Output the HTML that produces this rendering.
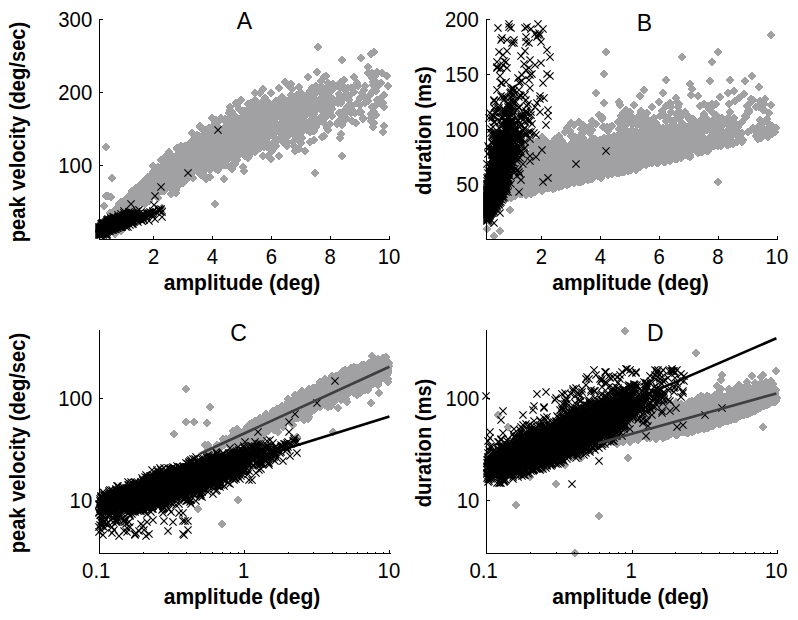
<!DOCTYPE html>
<html><head><meta charset="utf-8"><title>Figure</title>
<style>
html,body{margin:0;padding:0;background:#fff;}
body{width:798px;height:620px;overflow:hidden;}
svg{display:block;font-family:"Liberation Sans",sans-serif;}
</style></head><body>
<svg width="798" height="620" viewBox="0 0 798 620">
<defs>
<marker id="d" markerUnits="userSpaceOnUse" markerWidth="10" markerHeight="10" refX="5" refY="5" overflow="visible"><path d="M5 0.7L9.3 5L5 9.3L0.7 5Z" fill="#a1a1a4" shape-rendering="crispEdges"/></marker>
<marker id="x" markerUnits="userSpaceOnUse" markerWidth="10" markerHeight="10" refX="5" refY="5" overflow="visible"><path d="M1.4 1.4L8.6 8.6M8.6 1.4L1.4 8.6" stroke="#000" stroke-width="1.15" fill="none"/></marker>
</defs>
<rect width="798" height="620" fill="#fff"/>
<g>
<polyline points="225,130 301,133 259,129 158,167 170,162 291,130 114,216 272,151 265,114 196,152 170,170 166,180 163,180 192,162 202,150 211,130 381,102 263,156 224,179 372,92 157,178 149,186 222,151 127,198 125,207 204,144 196,158 311,130 226,126 204,175 201,161 162,175 118,212 154,179 239,146 155,185 180,180 112,216 275,123 148,194 165,180 294,106 203,146 281,118 228,147 250,122 137,204 209,152 203,154 290,129 179,164 219,151 131,204 183,149 173,164 147,182 271,116 182,156 358,86 218,170 221,118 227,142 235,132 147,188 192,133 161,187 186,161 138,193 347,112 157,174 234,122 170,175 291,95 232,118 144,184 280,133 328,83 304,114 214,149 154,174 317,92 211,149 152,178 295,119 228,148 214,147 181,157 187,164 161,160 126,205 292,124 196,145 210,140 173,169 252,131 122,205 181,158 124,203 143,193 346,94 231,128 190,153 206,179 176,190 218,146 237,132 178,168 205,144 256,128 307,110 147,179 320,118 114,213 253,110 269,118 145,200 188,157 270,127 119,210 225,129 263,118 204,153 246,141 159,177 155,182 179,163 152,183 177,170 330,113 215,144 176,193 165,183 333,84 192,159 360,98 204,152 205,149 301,143 250,128 216,153 189,152 293,126 187,152 314,140 133,204 190,151 205,151 332,116 162,174 267,138 235,134 244,171 226,145 351,113 175,164 185,157 155,187 129,197 157,193 310,142 279,125 141,187 221,143 198,149 232,150 171,194 341,103 196,168 225,142 227,165 152,180 131,202 187,162 255,100 270,125 247,117 141,193 309,123 266,117 293,124 206,139 310,96 128,202 124,204 121,202 163,178 162,191 153,185 214,140 126,208 218,142 150,184 235,145 121,209 171,175 323,95 208,156 269,116 231,157 222,138 154,193 215,143 126,201 266,127 340,85 283,109 129,205 176,169 172,174 141,194 225,152 265,117 172,167 287,121 265,122 144,189 256,148 295,126 154,187 215,147 227,158 222,144 138,200 232,129 226,150 273,144 267,122 174,177 245,111 288,123 299,119 149,183 123,208 230,138 157,172 213,143 328,92 182,155 163,183 194,142 231,130 139,191 182,171 145,186 232,132 275,128 181,146 181,160 209,150 157,179 162,172 174,161 194,151 135,193 253,111 216,158 134,202 255,125 145,187 144,196 135,199 305,96 165,178 171,171 276,115 224,161 153,179 191,155 295,136 181,172 243,142 138,198 246,127 259,124 274,118 235,116 181,155 132,203 205,160 254,107 165,184 208,133 252,136 301,116 143,191 153,189 265,137 229,143 245,121 383,103 324,123 280,125 259,144 184,151 228,140 153,188 254,121 254,146 245,124 192,147 188,158 124,209 280,111 209,147 183,161 210,134 245,126 182,153 275,112 312,129 183,154 255,147 377,72 243,128 273,134 313,107 143,190 137,197 370,95 142,203 151,178 215,157 193,160 252,141 309,102 157,186 257,123 197,135 172,157 172,178 194,165 130,199 381,83 297,138 310,128 162,185 184,175 159,180 143,197 124,210 143,189 151,192 286,132 199,153 152,185 234,145 165,170 206,142 167,169 225,119 208,132 184,165 263,126 291,99 145,188 141,189 359,112 325,109 159,189 349,111 156,193 203,130 201,139 310,92 126,203 172,163 220,130 132,191 160,191 196,164 294,108 255,135 275,138 255,143 242,128 282,104 236,152 248,109 150,188 254,138 150,195 312,114 219,147 322,101 148,199 204,149 137,192 345,96 215,137 267,117 266,121 241,144 228,141 332,105 191,148 188,147 239,129 277,131 175,174 234,138 156,174 211,144 257,127 247,121 119,208 338,103 196,154 187,147 245,133 206,134 247,116 136,197 213,138 212,147 319,122 226,134 211,147 134,195 219,135 158,198 154,181 293,142 194,161 252,127 242,117 211,165 268,120 196,156 224,120 271,113 236,134 228,145 186,167 212,118 185,165 251,152 196,159 253,133 202,152 175,176 274,113 182,167 280,139 261,136 243,122 125,215 286,121 216,142 212,127 233,144 235,130 217,137 188,168 169,171 169,176 190,154 387,76 178,158 193,159 181,163 216,169 330,124 297,110 182,157 165,174 295,105 201,151 237,126 134,194 288,119 172,169 201,153 155,194 188,159 274,137 274,111 197,140 257,106 195,145 181,178 210,133 155,189 172,170 242,112 257,141 130,198 248,145 271,123 192,165 131,199 237,141 162,171 228,126 181,175 227,128 198,166 206,161 226,138 155,183 342,60 168,177 171,167 163,184 189,147 258,133 242,153 154,191 173,179 257,130 200,157 314,100 231,166 224,165 256,143 252,117 176,168 163,188 191,154 200,147 146,183 192,160 228,134 145,184 145,199 151,188 167,173 341,82 122,210 197,157 119,207 195,152 149,182 165,186 263,117 152,188 223,142 186,168 188,150 271,111 149,191 314,128 299,112 233,159 128,197 232,154 220,163 258,130 157,180 334,101 296,103 141,184 172,173 124,207 275,145 310,106 373,82 233,124 214,131 333,99 221,154 175,173 204,166 120,214 246,128 239,124 189,144 283,105 253,131 175,177 170,167 193,152 317,102 166,169 302,110 236,120 283,124 186,148 111,213 262,102 161,185 146,193 265,112 237,134 157,185 165,167 324,77 165,168 241,128 144,190 270,128 142,194 204,145 211,136 281,126 136,188 166,166 256,129 221,147 225,165 194,152 287,137 169,165 254,148 227,160 250,126 182,160 246,116 240,149 183,156 123,211 342,156 155,184 166,186 196,150 286,107 193,172 168,181 170,174 134,201 158,178 165,188 151,182 131,197 196,157 157,189 249,129 314,118 166,171 215,146 203,145 134,200 143,185 296,148 197,164 267,147 132,206 219,136 288,114 205,157 180,163 254,129 164,162 269,121 194,149 348,88 173,161 184,170 148,183 214,145 334,100 216,134 229,145 173,157 214,164 218,140 266,116 211,132 155,193 217,143 200,145 150,194 224,141 271,108 210,143 248,133 186,162 165,172 181,182 209,148 237,105 212,148 140,199 271,118 314,114 139,196 162,177 151,181 282,114 307,130 127,204 175,165 154,186 313,97 133,203 151,184 199,136 206,135 251,118 191,151 178,178 362,93 252,125 142,190 268,122 171,168 260,133 118,209 290,104 149,187 232,158 203,159 150,179 146,181 167,171 129,203 144,181 196,149 217,138 167,170 125,204 253,121 163,191 186,150 253,126 186,171 297,95 311,92 248,104 146,198 220,167 321,92 147,189 243,132 197,165 352,121 144,193 305,124 139,188 137,202 174,174 323,112 124,205 311,98 222,133 132,201 214,150 195,155 249,122 236,142 384,107 148,177 269,110 187,158 261,121 299,121 376,115 165,177 194,158 326,117 328,130 181,167 324,97 186,165 254,139 197,156 193,158 183,173 190,174 146,187 253,122 213,150 234,146 266,128 160,179 166,176 255,134 227,145 153,180 140,190 240,128 254,119 169,166 227,135 125,205 186,160 216,120 163,176 177,168 222,146 218,143 148,186 242,147 135,206 349,96 155,192 163,175 155,181 375,76 168,178 221,138 374,107 332,86 127,206 220,165 241,132 175,168 174,158 113,216 211,155 175,167 133,193 316,102 191,167 242,142 116,210 161,176 340,120 301,98 227,139 137,195 158,183 139,198 148,196 304,123 175,172 136,192 264,147 235,150 210,170 223,148 139,197 164,191 217,141 333,101 271,120 205,158 119,204 298,115 144,183 239,127 262,110 194,155 283,133 357,83 161,169 288,132 171,164 203,155 116,212 192,152 243,151 202,162 289,103 301,100 172,159 167,179 324,99 202,137 138,197 374,52 216,137 130,195 204,143 202,160 191,149 333,100 331,98 148,181 186,156 276,130 224,135 247,122 215,153 156,184 271,127 119,212 240,129 154,177 197,138 354,87 209,153 130,202 190,148 232,141 163,174 120,209 182,168 202,154 169,181 231,132 151,185 306,109 340,97 200,146 196,161 286,125 168,184 168,187 245,114 175,182 316,86 268,102 209,131 177,149 133,197 163,181 234,150 342,125 361,58 298,122 152,192 349,100 289,122 293,133 224,157 155,180 205,131 168,169 143,183 266,124 314,131 146,189 118,216 164,177 145,183 153,182 217,133 189,171 190,171 233,141 168,165 185,146 195,162 304,117 162,178 244,136 171,180 300,110 184,159 203,148 292,133 234,136 138,204 145,185 374,116 123,207 339,113 119,213 149,196 157,171 136,200 197,152 218,122 140,191 267,108 213,141 209,139 190,175 287,146 184,163 204,155 213,154 256,118 247,141 163,177 376,105 245,152 189,170 188,176 260,93 151,187 228,138 244,130 205,148 291,84 196,151 196,167 167,165 312,120 172,171 239,141 187,168 321,81 330,103 380,99 221,144 134,193 201,152 128,198 210,177 180,157 170,158 220,141 273,145 322,97 174,173 114,215 181,156 340,83 142,189 289,131 230,110 259,126 168,183 300,93 135,195 142,188 193,157 147,187 210,138 250,134 285,116 218,127 364,90 195,166 257,135 138,202 291,124 216,148 297,116 262,121 289,105 244,128 218,156 319,88 118,214 154,178 179,165 271,107 210,146 204,160 255,114 231,135 168,171 136,196 195,147 294,102 219,140 129,207 192,161 183,162 216,126 217,139 333,104 175,159 222,141 296,110 242,140 197,146 270,116 199,155 343,121 167,172 144,185 275,129 169,179 281,112 222,159 203,172 136,203 262,134 344,111 292,109 170,172 144,194 296,120 198,148 143,186 201,144 162,173 186,180 228,150 310,114 266,120 149,195 198,141 200,126 372,107 204,154 309,122 164,178 212,161 173,186 316,109 136,202 243,111 302,126 299,110 322,88 106,223 342,100 255,146 131,198 241,100 311,110 347,107 244,135 287,101 279,110 179,173 139,189 246,147 382,73 212,142 205,140 330,104 167,167 388,86 308,77 179,170 174,160 143,192 153,187 298,135 219,157 234,127 248,137 127,199 202,149 129,202 202,147 249,132 231,150 223,141 128,199 160,171 301,93 208,150 128,208 324,95 187,163 210,139 244,140 323,104 249,156 177,164 134,205 242,138 352,106 120,207 258,137 195,164 206,149 223,139 372,78 238,125 184,160 196,153 187,159 180,166 201,175 167,181 161,175 147,183 192,167 169,152 277,107 281,124 176,181 224,144 303,130 179,160 192,142 230,135 340,138 145,192 345,120 233,131 264,104 227,141 290,102 174,176 164,160 203,164 236,121 155,175 131,208 263,128 268,136 173,172 231,138 136,194 232,134 215,142 223,144 193,147 158,184 246,139 251,139 180,160 136,195 209,167 224,137 313,130 164,173 240,154 182,148 200,127 207,160 239,144 227,137 236,146 183,155 235,146 177,165 195,156 213,142 120,206 201,145 183,177 231,133 299,149 178,169 140,192 224,146 144,197 299,87 179,167 201,140 142,186 173,178 166,156 243,143 368,101 179,174 263,122 146,196 216,144 190,149 272,124 251,110 145,195 272,125 376,91 222,140 290,112 365,97 250,139 158,177 180,165 224,153 316,119 170,176 184,162 121,207 240,132 192,163 160,187 232,169 234,135 196,170 251,121 153,191 195,160 160,186 266,145 271,159 328,99 278,109 229,118 273,117 247,132 251,127 240,138 275,133 169,158 234,158 174,167 148,193 200,154 180,168 189,169 283,118 236,140 365,86 157,187 203,147 137,199 332,103 254,141 288,128 203,160 265,121 192,151 203,156 154,182 171,183 170,187 371,114 324,136 345,117 283,142 229,113 190,157 154,184 177,155 186,174 374,112 245,141 147,197 126,209 327,91 153,172 230,136 195,149 260,135 200,164 208,155 194,171 373,127 265,98 201,143 160,180 154,176 162,187 339,94 283,104 240,144 184,180 192,164 169,169 189,164 257,133 134,214 166,175 198,144 235,164 229,133 246,126 140,200 171,165 167,182 253,137 378,86 237,127 315,93 219,158 177,184 178,162 226,139 287,131 176,158 153,166 110,213 145,193 282,97 225,141 374,123 133,199 180,171 264,118 232,126 132,204 185,158 227,125 238,138 194,166 153,190 345,90 244,143 208,163 160,168 131,210 173,171 179,155 271,93 121,208 268,110 191,166 165,165 285,122 273,123 173,174 297,97 169,175 231,154 265,145 287,127 200,143 279,88 195,153 164,183 175,185 256,137 276,101 146,186 337,124 325,117 346,95 247,139 235,159 181,170 110,219 276,140 166,173 135,202 172,166 246,119 159,184 284,135 225,133 158,188 292,132 255,124 204,147 182,177 174,171 186,149 193,178 168,175 183,160 175,161 223,150 201,149 264,135 204,165 252,148 282,124 269,132 234,156 245,145 240,141 163,170 142,198 185,162 121,210 231,122 251,103 259,132 144,187 278,127 125,200 195,146 176,176 207,148 237,128 248,144 133,195 329,111 215,141 165,166 205,154 205,163 162,170 164,174 179,169 260,148 191,160 194,160 356,123 169,172 208,143 303,108 322,109 150,191 232,145 260,120 254,115 235,121 120,211 159,173 241,133 183,171 193,150 279,156 122,211 165,171 168,174 377,100 128,200 188,169 230,142 148,187 278,140 241,134 149,201 294,110 155,172 247,130 278,125 163,166 137,198 217,150 202,166 198,145 260,122 194,164 149,185 162,182 261,132 141,198 206,162 172,165 161,170 181,165 202,146 235,161 351,108 194,156 188,167 161,173 133,202 156,185 166,160 322,119 187,157 219,149 137,193 298,107 184,177 296,122 328,87 304,115 160,182 124,212 194,153 340,113 116,213 155,186 134,208 302,114 238,142 180,172 279,100 265,131 174,170 281,104 318,106 224,158 178,172 303,99 326,110 177,158 289,109 233,134 159,179 214,155 171,173 176,167 154,195 176,178 372,73 195,142 351,88 115,214 317,124 277,112 218,134 239,109 171,174 183,174 161,178 168,180 151,186 304,120 297,114 179,159 200,150 177,166 344,80 176,163 328,98 169,182 268,113 141,186 248,128 268,143 278,102 354,77 243,167 357,103 166,170 205,146 191,174 245,156 259,141 120,208 326,96 162,184 276,114 300,142 249,154 175,170 277,127 178,184 260,144 301,114 252,121 174,163 207,138 208,136 141,197 375,81 346,97 327,107 207,155 143,194 272,120 190,150 243,136 274,119 273,143 239,125 307,104 261,139 291,116 178,177 187,171 175,162 159,169 174,179 189,157 214,157 253,134 197,150 219,128 189,165 212,138 301,111 165,175 205,130 237,160 341,134 201,155 161,179 255,93 270,117 226,121 310,91 207,162 250,113 311,107 228,136 220,137 183,175 214,154 305,151 274,106 249,134 314,110 132,200 257,118 252,126 196,165 125,210 200,160 273,131 161,183 211,146 230,107 294,146 293,114 227,144 183,183 259,110 301,130 198,154 310,132 150,181 256,117 170,166 217,151 201,148 147,191 253,127 250,127 147,186 164,180 266,125 308,107 290,114 180,152 201,150 159,172 149,199 239,136 230,114 354,92 296,133 301,94 192,170 265,126 167,175 206,130 360,105 203,158 262,136 172,164 275,132 160,174 328,102 122,206 215,152 241,142 258,107 182,175 158,180 283,113 159,186 326,76 213,161 205,139 239,131 175,178 137,196 261,119 265,134 127,205 303,104 182,150 316,127 219,143 210,152 271,133 225,136 235,133 148,195 134,197 198,159 256,122 118,213 384,95 203,162 156,176 156,178 186,169 263,89 126,204 278,111 373,85 179,177 160,173 152,184 173,166 111,216 261,142 233,125 248,158 234,153 172,168 156,183 189,158 229,150 256,135 232,112 248,118 142,192 165,182 193,144 141,192 140,193 230,150 250,142 181,171 184,173 205,153 216,141 320,104 126,199 307,114 177,167 246,115 273,129 230,147 224,136 292,89 140,198 280,105 259,115 251,134 238,139 143,187 238,135 202,156 355,113 227,154 132,212 282,122 277,102 216,132 207,163 197,155 232,135 157,177 122,207 152,187 285,82 244,114 252,122 287,142 203,150 225,137 199,173 163,169 239,142 215,161 253,143 198,157 317,72 249,146 176,188 279,116 183,151 371,121 300,104 209,145 143,199 371,118 266,106 146,185 215,150 255,141 147,184 340,88 177,148 199,165 138,199 136,199 258,134 306,112 180,169 323,97 324,104 312,88 286,115 279,112 208,157 203,142 180,154 288,101 303,120 215,148 167,164 161,182 138,191 173,163 258,144 199,159 220,153 128,209 169,184 305,105 379,103 150,192 256,132 198,170 314,103 292,113 184,171 131,200 303,103 368,67 159,176 209,128 239,134 199,141 178,186 162,169 163,172 334,88 116,209 246,118 262,107 219,148 233,132 242,139 248,129 288,85 215,123 236,149 166,178 327,128 229,127 300,105 363,118 140,196 207,142 141,195 153,174 132,198 282,133 135,197 284,104 241,146 375,85 251,141 243,124 133,200 258,136 222,136 164,185 208,149 137,200 268,156 139,192 212,133 160,170 342,85 236,103 284,126 182,159 326,92 169,170 365,103 131,201 248,141 168,170 227,138 128,201 249,121 158,189 174,165 321,86 203,170 230,145 241,125 272,106 164,168 121,206 312,131 225,128 187,153 255,105 207,156 363,119 332,109 316,110 274,110 207,146 230,143 223,143 132,197 118,210 244,121 240,121 260,128 277,124 223,140 281,107 232,122 316,101 127,212 183,176 291,128 122,208 152,193 255,111 163,165 346,118 255,152 193,155 145,204 165,163 361,112 263,129 133,198 242,133 181,150 245,125 144,186 121,212 286,136 298,127 237,121 251,137 302,117 368,73 192,168 259,143 320,99 384,126 231,146 196,160 195,163 166,177 120,210 256,150 239,120 279,107 148,191 160,183 322,137 197,159 219,156 338,122 289,111 302,138 262,144 184,172 161,181 290,127 312,126 291,113 182,165 193,140 164,172 139,193 260,139 151,183 228,133 187,161 213,151 211,160 299,124 261,125 276,146 210,148 236,131 240,123 265,142 267,116 106,147 112,178 106,196 108,196 111,197 104,206 121,231 115,234 109,233 103,232 99,231 112,228 107,228 122,209 330,100 176,180 215,204 217,162 315,173 383,132 295,151 218,165 330,92 102,230 100,231 105,229 162,208 318,47 371,54" fill="none" stroke="none" marker-start="url(#d)" marker-mid="url(#d)" marker-end="url(#d)"/>
<polyline points="103,226 99,230 102,228 102,231 100,229 108,226 101,228 103,230 110,225 133,222 105,226 101,232 100,230 104,226 103,228 104,228 107,230 102,225 120,224 113,220 99,229 117,226 112,220 111,227 112,224 101,229 101,226 100,232 108,225 111,220 105,227 104,227 109,228 117,220 108,227 105,232 111,228 102,229 103,227 101,231 106,229 113,228 107,228 107,226 112,225 110,227 111,225 106,228 100,228 116,224 109,229 125,221 106,227 101,227 106,223 109,222 107,227 144,220 118,218 99,233 106,224 101,230 112,221 103,233 107,223 113,222 105,225 102,224 110,221 105,228 102,227 114,225 116,221 102,230 100,231 120,221 116,226 103,231 113,224 114,228 112,227 137,211 103,229 104,225 114,223 128,221 108,224 107,229 106,230 113,223 124,221 110,224 105,229 115,223 116,223 122,224 116,227 102,226 104,229 109,227 132,219 107,224 115,221 147,217 109,224 114,222 109,226 110,223 111,229 114,224 110,229 148,214 119,222 111,224 99,232 119,218 108,228 108,223 112,222 99,227 109,225 153,212 107,232 111,223 104,230 102,232 123,222 141,219 115,222 117,224 105,231 108,229 118,226 114,220 121,223 105,230 118,221 134,218 106,226 106,225 127,219 113,230 128,222 99,231 121,227 107,225 117,221 125,218 107,222 111,222 110,226 112,230 152,213 128,214 113,227 105,224 117,222 112,226 119,224 128,223 120,218 114,229 123,224 112,219 110,222 137,220 110,228 119,219 113,225 112,223 117,219 114,221 117,223 109,230 103,225 133,217 118,217 120,226 117,225 131,218 115,225 120,222 116,225 107,220 122,219 125,219 115,224 105,223 142,218 104,231 120,223 124,213 138,216 129,220 111,218 114,219 114,226 136,219 108,230 103,224 113,226 114,217 147,214 128,218 106,222 131,221 104,224 155,219 124,225 118,220 122,223 114,218 115,228 99,228 103,232 124,216 134,222 106,231 121,220 109,223 119,220 115,226 120,227 111,226 127,218 128,227 117,227 110,220 126,221 108,222 107,231 123,219 115,219 152,215 100,233 129,212 117,228 116,222 102,223 119,223 111,221 115,227 124,215 115,220 121,226 159,210 118,219 126,227 142,217 124,211 119,225 101,233 122,226 130,218 132,214 113,217 121,216 132,218 120,217 119,217 119,226 113,221 118,224 123,216 112,228 122,225 114,227 121,221 149,221 133,224 103,223 116,229 107,221 123,220 108,220 139,219 131,214 132,216 124,217 112,229 127,217 118,223 126,222 121,217 132,215 137,215 140,217 124,224 100,227 132,222 149,214 124,223 119,221 116,220 118,225 104,232 122,227 142,216 124,218 121,222 134,216 130,219 109,231 143,218 118,222 126,220 123,223 120,219 124,222 123,225 108,219 111,219 116,218 121,225 120,225 121,218 132,224 132,221 122,218 102,233 134,217 125,217 109,221 137,214 122,220 124,220 130,222 125,223 125,222 160,211 121,214 144,216 154,205 113,229 138,222 129,218 101,224 115,229 125,215 121,219 126,225 138,219 127,220 128,215 108,221 139,210 121,224 125,220 110,231 113,219 104,223 131,222 127,214 129,215 141,212 131,212 118,215 143,215 149,213 118,228 162,217 111,230 140,218 119,227 122,217 125,216 132,213 124,219 125,224 129,214 130,225 136,220 143,216 126,218 134,221 123,218 129,216 138,214 136,215 126,214 108,231 143,217 116,219 122,221 139,217 133,213 126,223 126,219 115,218 133,221 138,217 135,214 123,221 142,214 99,235 107,235 101,235 106,234 100,235 101,234 99,234 106,235 104,233 107,234 103,234 105,233 103,235 100,234 106,233 104,234 153,211 139,216 123,217 143,214 132,217 150,212 141,220 137,218 151,214 142,221 152,216 109,220 159,209 162,212 147,213 153,214 156,212 161,209 145,216 218,130 188,173 161,187 155,196 131,204 159,211" fill="none" stroke="none" marker-start="url(#x)" marker-mid="url(#x)" marker-end="url(#x)"/>
<polyline points="612,160 689,139 646,132 546,141 557,174 679,150 501,195 660,155 652,159 584,142 558,161 554,188 551,184 580,155 590,178 599,152 769,136 651,129 612,153 759,106 545,174 537,186 610,162 515,177 513,186 592,151 584,178 699,140 613,137 592,130 589,178 550,178 505,178 541,184 626,165 543,167 568,166 500,193 663,128 536,166 553,178 682,139 591,176 669,158 615,167 638,120 525,174 597,163 591,169 678,158 567,172 607,143 518,185 571,162 561,151 535,170 658,139 570,171 746,117 606,129 609,154 615,152 623,150 535,183 579,175 548,183 573,158 526,189 735,101 545,186 622,159 557,146 679,111 620,152 532,193 668,148 716,104 692,130 602,159 534,191 541,181 705,124 599,171 540,173 683,124 616,158 602,163 569,184 575,175 548,181 513,190 680,126 584,143 598,168 561,167 640,96 510,196 511,181 531,191 734,118 619,129 577,147 594,153 679,144 564,180 606,166 625,120 566,181 593,139 644,137 695,141 535,180 708,139 501,175 640,157 657,143 533,185 576,172 506,169 613,149 651,152 592,139 634,143 546,159 542,191 540,155 564,173 718,146 603,150 564,182 721,131 580,162 748,111 592,175 593,173 689,137 638,151 604,166 577,172 681,149 575,155 702,152 520,169 578,180 593,163 720,143 550,163 655,122 632,149 613,170 738,127 562,179 573,174 543,161 516,191 544,183 698,96 666,118 529,175 608,169 586,145 607,170 619,102 558,179 729,135 584,132 614,164 540,185 519,185 575,174 643,141 658,159 635,159 529,178 697,144 654,141 680,152 594,158 698,147 515,192 511,178 508,186 550,176 550,151 541,185 601,146 514,192 606,147 538,186 623,162 509,196 559,167 711,108 596,170 657,152 619,134 610,165 541,190 603,170 514,181 654,152 728,118 671,121 516,189 563,159 560,168 529,187 613,169 653,132 559,136 675,159 652,138 532,161 644,161 683,155 542,187 603,159 615,169 609,152 526,192 620,158 661,152 654,156 562,162 633,139 676,148 687,133 537,177 618,142 601,174 716,117 570,182 550,183 582,161 619,158 527,172 570,159 532,143 620,148 663,138 569,156 568,173 596,163 545,173 550,166 562,186 582,165 523,188 640,155 557,152 522,153 643,157 532,171 532,183 532,164 523,159 693,136 553,162 558,158 664,162 611,170 541,177 683,141 569,169 630,142 526,170 634,153 647,113 661,136 623,154 568,179 642,133 541,169 552,185 596,145 639,167 689,144 531,185 540,144 653,129 616,168 633,167 771,105 712,143 667,146 647,159 572,178 616,163 540,182 642,163 642,130 633,134 569,173 576,178 512,193 668,156 597,171 571,144 598,161 633,142 570,160 663,137 700,141 571,152 533,168 642,145 765,121 535,192 631,160 661,153 701,145 531,165 525,171 758,139 529,166 539,145 603,172 580,136 640,120 697,129 545,185 645,157 520,194 585,164 512,161 559,185 632,124 582,172 518,175 769,113 685,147 698,127 549,153 572,168 547,142 531,167 512,189 590,171 531,189 539,172 674,152 587,174 540,180 622,131 552,188 594,170 555,161 592,152 613,156 596,162 572,173 651,160 679,134 533,173 529,183 747,106 713,137 547,186 737,141 544,166 591,177 589,173 698,146 514,185 560,160 608,154 520,186 548,188 584,150 682,156 643,154 663,93 643,123 630,153 670,133 624,163 636,147 558,165 538,174 641,113 700,152 607,173 562,180 710,146 536,169 592,160 525,183 732,129 603,167 555,181 654,118 629,166 616,145 720,124 578,182 575,148 626,117 665,145 563,174 622,166 599,145 645,117 520,172 634,138 507,191 726,135 584,173 574,183 633,164 594,157 635,154 524,167 601,167 600,175 707,151 514,174 581,169 614,168 598,164 521,191 606,163 542,178 681,147 542,168 582,158 640,162 630,147 655,156 584,172 612,174 659,102 623,143 616,150 574,149 600,177 572,135 638,165 570,167 641,156 590,176 563,173 662,159 570,173 668,118 649,153 581,173 631,145 512,160 571,123 674,149 604,161 600,145 621,165 623,155 604,170 576,181 540,176 556,183 556,149 578,160 775,132 565,176 568,152 718,133 685,112 569,177 552,174 683,115 588,166 625,138 521,174 676,139 559,179 589,164 542,170 576,141 662,138 662,137 585,150 644,162 582,153 598,152 543,185 560,172 630,163 645,160 518,188 636,167 659,159 580,179 519,178 624,155 549,188 616,169 569,175 615,139 551,177 585,172 614,163 543,184 729,104 556,167 551,178 520,182 577,178 645,148 630,161 542,185 533,163 561,171 644,144 587,165 702,150 619,172 612,170 644,151 640,160 564,177 588,173 534,185 580,173 615,171 533,142 533,183 539,180 729,126 510,174 540,184 537,142 585,168 507,187 582,178 537,189 553,157 651,154 540,158 611,169 574,176 576,176 659,135 537,143 702,142 687,134 621,136 516,152 620,162 645,140 545,183 722,139 684,148 529,156 560,159 512,169 663,144 761,107 610,154 621,161 623,138 602,164 721,146 609,163 592,158 508,196 634,105 627,167 576,158 670,157 641,126 563,160 522,190 540,167 558,178 581,178 705,130 554,149 690,155 624,143 671,148 573,179 499,189 650,134 549,179 534,184 653,131 625,156 544,178 553,185 712,136 553,159 629,167 532,179 658,163 530,184 513,194 598,175 669,147 523,182 554,182 643,144 609,170 559,170 613,145 582,150 674,135 556,166 642,160 637,160 569,163 634,133 628,155 571,158 510,184 730,144 631,116 543,186 584,164 673,155 581,177 556,154 558,183 522,192 545,157 553,161 539,173 519,177 584,176 545,170 637,164 702,146 553,167 602,156 591,168 522,185 531,192 683,147 585,167 655,158 520,193 607,146 676,98 676,146 502,199 593,154 568,172 521,192 552,177 657,155 735,123 560,178 514,165 572,136 536,182 523,190 602,171 722,140 604,138 617,151 561,182 602,117 606,144 654,147 598,171 542,186 604,173 588,153 538,167 611,143 659,130 533,149 597,166 636,159 573,171 553,150 597,157 625,155 600,166 528,189 659,138 702,148 527,186 550,155 539,156 670,161 695,145 515,195 562,157 541,182 584,145 701,148 521,193 538,184 587,162 594,160 639,145 579,176 534,174 566,149 750,103 640,153 656,161 559,177 648,135 506,192 678,139 582,133 620,105 591,164 537,166 533,181 555,174 517,190 545,178 532,175 583,138 566,174 605,164 555,188 562,147 641,120 551,185 574,171 641,132 574,165 684,133 699,122 559,162 550,170 533,170 579,148 608,168 709,109 534,154 631,157 585,157 740,137 627,149 532,187 693,119 527,181 525,179 562,178 711,145 699,145 520,189 602,167 582,156 601,163 637,125 623,163 772,134 536,175 657,135 575,137 649,155 686,133 764,131 552,180 581,181 714,145 716,129 569,151 712,62 574,125 569,181 641,159 585,175 581,160 571,171 578,179 519,181 641,152 601,162 622,170 547,155 547,181 554,184 558,180 642,143 569,162 541,178 528,169 627,143 641,111 557,163 512,186 574,138 603,127 550,165 565,153 606,162 536,183 737,142 543,165 550,175 763,110 609,150 762,127 719,131 514,193 593,172 608,171 629,143 563,163 562,159 500,178 513,185 543,187 562,174 521,180 512,196 704,131 579,153 630,112 504,196 549,166 728,122 689,143 615,143 525,166 560,186 511,183 545,177 510,189 531,186 614,169 527,187 536,164 692,126 563,164 562,182 524,191 652,107 598,162 551,183 604,127 721,127 659,129 616,137 593,167 507,185 686,137 520,174 532,186 627,154 657,160 649,163 581,142 539,163 513,176 670,103 745,81 549,164 676,147 573,180 559,175 590,152 503,184 542,183 631,169 590,157 677,102 689,117 560,162 554,181 712,121 590,141 526,195 515,182 761,108 604,159 517,183 591,170 590,154 579,173 720,139 531,179 535,174 574,173 664,150 612,163 635,162 544,188 659,136 506,197 628,143 542,190 585,169 742,142 596,174 578,141 620,156 508,191 597,161 570,174 590,159 557,183 619,168 539,155 728,93 584,175 673,157 654,157 555,175 633,159 563,184 608,175 703,125 517,173 656,143 597,169 570,180 565,175 520,192 551,176 612,166 526,188 621,147 730,139 749,110 685,153 655,143 539,184 737,127 543,179 677,146 681,156 612,150 543,151 593,164 556,182 531,182 654,158 702,132 534,187 506,178 552,163 532,182 541,151 604,142 576,170 578,157 543,149 556,161 573,168 583,174 692,89 632,130 559,152 688,144 590,167 680,135 622,137 525,169 533,189 762,136 511,198 558,151 727,145 507,192 537,181 544,186 524,183 585,166 560,164 528,157 657,163 655,126 600,155 533,147 597,153 613,160 577,179 675,152 571,182 591,161 529,185 601,151 644,158 635,161 764,104 633,138 577,157 647,126 539,179 615,166 632,159 592,163 679,104 584,155 583,161 555,144 700,106 560,181 627,162 709,129 718,143 511,191 768,137 609,137 589,127 516,192 598,153 540,188 568,174 558,186 608,131 660,116 710,123 562,164 602,119 502,177 569,165 728,145 530,179 677,129 618,161 647,155 556,158 688,137 523,167 530,167 640,163 581,162 592,161 557,182 598,176 638,163 672,145 518,173 606,154 752,76 583,171 526,181 679,153 604,143 685,144 650,149 677,159 518,186 632,162 542,180 552,158 561,147 606,160 613,138 707,130 506,199 542,177 567,185 659,140 598,169 592,144 619,165 524,187 583,177 682,132 607,157 517,188 579,154 570,172 605,171 563,180 610,143 684,143 629,168 584,168 587,157 731,141 555,162 531,177 557,177 669,140 609,168 591,165 524,163 520,185 732,142 680,142 558,177 531,187 684,128 586,162 531,171 589,170 549,167 574,181 615,156 698,128 654,154 588,180 760,120 524,161 591,167 697,147 573,173 552,155 599,176 560,157 704,129 524,177 544,171 631,170 556,153 690,141 687,152 710,137 551,149 494,192 730,80 643,128 518,179 629,155 699,128 735,134 632,169 675,136 667,154 566,146 526,182 634,122 533,190 570,179 769,124 600,161 593,150 718,128 555,139 776,128 696,145 567,167 562,170 698,153 540,156 504,181 686,146 607,174 622,172 636,170 525,190 589,172 516,178 590,162 636,169 619,166 611,165 515,188 548,146 689,136 595,164 516,188 712,112 574,160 632,143 711,147 636,163 565,167 522,191 630,152 739,98 507,169 646,145 583,125 610,173 760,134 625,137 572,175 584,159 575,180 588,168 555,157 549,182 535,149 579,157 665,153 611,172 691,128 566,171 599,148 580,176 618,168 727,141 621,160 652,153 678,151 561,173 630,149 552,167 591,156 624,156 543,180 519,167 651,143 656,131 621,163 561,141 619,170 523,156 620,170 603,168 611,166 581,151 546,180 634,162 583,176 639,140 567,156 524,174 597,175 612,164 701,120 645,158 552,187 561,146 587,151 595,162 627,166 615,168 623,166 570,165 623,171 564,165 609,173 583,158 601,161 508,188 589,168 545,165 571,136 521,188 619,162 566,178 527,167 612,126 531,166 686,155 530,154 567,177 530,168 554,183 631,164 756,107 567,130 651,142 533,176 604,152 578,159 556,177 660,160 639,158 556,184 659,127 764,110 678,107 753,100 637,145 546,179 568,156 704,115 558,184 572,166 509,189 580,177 653,154 547,175 619,143 622,157 583,126 541,186 573,157 541,162 525,159 583,162 548,160 653,140 659,142 716,115 666,153 617,173 661,150 634,168 639,119 628,164 663,158 557,176 622,122 563,169 561,175 588,165 568,171 576,157 670,147 624,172 624,126 753,129 545,171 591,147 525,163 572,145 720,97 524,166 642,158 676,143 591,162 653,155 580,161 566,179 590,153 542,171 559,165 558,157 759,134 563,152 712,138 533,158 733,144 671,112 617,149 577,163 528,177 527,177 565,152 574,177 702,127 596,173 762,122 633,133 534,182 599,174 536,145 514,184 715,130 541,188 527,188 618,122 583,159 505,164 631,152 648,161 588,167 596,167 582,171 761,138 653,137 520,187 589,156 548,159 542,154 550,186 727,138 671,127 628,141 560,179 571,155 579,122 645,156 522,186 554,168 586,155 617,153 634,147 527,192 540,154 559,169 555,169 641,164 766,133 624,152 557,165 654,135 703,140 607,158 565,170 566,161 614,136 675,143 564,176 498,191 670,105 762,131 520,184 568,165 652,158 620,154 573,163 733,135 584,166 632,146 596,155 523,184 548,162 519,189 541,176 543,160 575,172 561,177 567,128 659,151 509,178 527,168 656,123 595,150 579,174 552,162 597,172 546,164 673,124 661,149 561,169 685,141 557,154 619,173 673,144 653,139 674,131 588,145 667,133 586,178 644,159 663,114 534,164 537,183 570,153 724,122 713,131 734,91 635,158 623,119 553,187 569,148 498,189 664,160 554,185 522,148 560,163 633,158 502,195 547,174 689,140 672,157 613,162 600,164 546,181 679,119 642,159 592,124 545,168 570,148 519,192 574,161 581,156 555,184 562,176 569,170 611,151 589,167 652,144 592,179 582,159 631,122 640,159 670,156 657,158 621,170 633,152 536,181 628,171 551,166 572,167 508,163 619,155 639,151 646,162 532,174 616,165 666,106 513,195 542,137 553,181 538,163 619,164 595,172 625,142 630,168 636,162 633,141 520,166 717,136 603,164 578,165 593,178 593,170 552,186 567,168 648,163 579,182 514,171 581,138 506,185 744,94 556,178 566,176 517,175 691,95 709,149 576,159 569,168 620,123 623,156 508,181 547,168 592,121 629,161 571,151 667,148 510,155 553,165 765,99 516,187 617,166 666,121 629,146 537,175 682,152 666,149 551,145 525,186 605,166 586,177 648,151 583,165 589,174 587,128 582,175 537,165 552,181 550,173 648,155 543,181 594,156 559,187 590,132 739,134 671,144 578,153 575,144 548,186 721,138 543,174 554,176 710,81 607,144 525,188 527,142 684,136 716,120 692,134 662,111 547,163 581,166 519,182 728,123 503,188 561,153 506,193 589,177 522,194 690,151 568,182 667,127 652,163 669,151 706,150 611,149 690,84 714,125 565,168 524,190 677,115 621,148 547,144 601,155 559,181 700,140 564,147 515,179 760,101 545,179 582,170 739,125 502,191 557,181 526,187 705,144 664,138 606,167 599,166 627,164 558,159 549,176 556,175 539,181 692,148 685,146 627,163 588,172 555,153 565,150 732,124 564,172 604,103 716,134 656,162 529,192 636,131 655,160 665,162 742,122 745,116 593,155 523,179 632,134 647,160 507,178 714,140 549,183 556,180 664,159 688,145 583,154 664,158 655,154 648,124 584,177 689,133 570,131 640,161 615,170 595,174 609,169 596,171 528,167 763,132 734,143 513,183 715,144 595,176 531,194 660,137 578,163 631,155 662,142 516,193 660,141 627,131 695,149 553,146 649,137 679,156 566,183 575,173 563,143 502,178 547,167 562,153 528,159 644,90 577,171 602,168 555,185 567,164 584,158 607,163 600,176 689,119 552,168 625,139 729,124 589,158 549,187 658,155 614,171 698,152 524,182 594,142 699,146 616,142 608,151 571,165 602,158 599,167 693,147 662,152 637,157 702,139 583,157 557,167 584,169 661,145 556,176 587,158 670,136 553,179 661,133 599,115 618,171 681,114 681,158 639,161 614,167 647,141 689,132 586,160 698,143 538,158 643,163 558,182 589,144 534,159 641,158 638,138 696,135 677,132 590,169 568,154 580,168 539,150 570,149 618,166 742,133 684,151 689,150 580,164 555,177 748,132 607,149 650,159 508,198 551,182 716,132 510,169 603,141 629,135 646,164 570,183 545,180 671,107 530,185 520,188 547,152 588,163 714,146 635,160 601,171 627,124 613,172 525,194 648,157 614,156 691,134 570,176 704,138 607,147 598,156 536,179 522,173 532,180 586,158 552,150 644,163 530,181 771,134 559,180 544,180 544,163 573,181 650,121 514,187 665,150 761,124 567,165 548,173 540,166 561,185 670,137 499,180 621,171 508,177 636,142 622,169 674,121 544,182 577,170 529,190 617,147 524,175 540,183 644,156 620,161 609,172 542,164 628,120 529,158 553,183 581,182 529,189 528,160 638,164 571,179 544,161 593,122 604,167 708,106 514,194 694,130 762,123 564,162 634,167 661,146 556,173 612,144 680,155 528,188 586,172 509,179 668,141 647,161 515,180 626,132 531,178 626,110 590,133 743,140 615,163 590,179 530,191 670,132 638,122 603,166 595,173 636,155 562,141 589,152 584,180 545,167 524,180 540,163 673,121 632,155 640,167 580,153 527,146 584,174 675,133 591,149 569,182 535,179 613,153 587,172 627,138 560,169 641,146 569,159 586,142 704,104 632,148 636,148 666,80 571,149 759,126 688,131 619,167 663,143 636,150 759,87 653,124 534,173 549,165 643,164 535,164 728,130 564,179 768,128 640,151 587,178 567,149 526,193 613,140 694,144 567,163 711,142 557,147 712,104 700,133 674,157 629,148 629,139 666,133 596,124 591,129 676,152 691,151 554,170 554,165 549,160 526,185 561,166 646,156 509,186 586,168 556,142 693,124 767,119 670,153 538,182 643,139 581,129 586,143 680,145 690,132 756,132 591,150 546,168 597,165 627,168 565,132 550,174 551,144 722,118 503,198 634,165 650,154 607,171 546,188 621,116 630,158 636,145 737,133 624,151 715,140 616,172 688,156 556,162 751,130 527,189 595,158 528,187 643,133 570,152 541,140 670,155 523,189 563,181 672,133 625,148 763,133 510,163 621,167 638,117 639,159 631,141 521,161 523,172 646,155 610,127 552,184 504,184 595,139 639,146 564,164 656,156 526,154 588,156 526,171 648,137 600,140 548,169 730,112 624,169 672,154 570,181 714,142 557,170 753,128 636,166 577,174 615,145 546,176 527,191 637,166 546,149 589,149 562,158 548,164 709,128 618,162 629,142 660,139 522,187 584,162 538,154 700,132 613,147 575,146 533,171 643,117 595,157 539,151 751,99 720,129 704,139 662,129 595,160 618,136 535,184 611,153 520,164 506,194 632,166 564,160 648,162 665,134 669,130 704,114 515,196 553,189 571,170 539,182 679,130 510,192 546,182 551,165 643,132 553,158 749,112 651,134 630,155 569,179 557,156 508,157 557,166 674,145 624,168 639,144 542,169 690,125 756,136 580,181 646,165 708,151 772,126 557,149 618,163 571,173 583,181 554,169 508,162 644,117 666,157 536,142 548,171 710,138 585,152 607,127 725,143 677,151 690,157 575,176 552,161 678,148 650,146 572,177 678,153 700,148 568,130 679,141 570,169 601,178 546,183 553,173 552,175 551,173 592,171 527,175 539,166 580,160 616,170 533,187 601,148 598,146 687,136 649,149 530,186 598,173 623,113 537,190 628,165 653,151 655,148 494,206 499,202 494,208 495,210 498,199 492,211 503,195 496,205 491,223 487,229 500,231 494,236 510,210 718,182 603,173 604,74 596,93 703,129 771,35 682,57 606,52 718,52 490,217 488,220 493,215 706,118 759,107" fill="none" stroke="none" marker-start="url(#d)" marker-mid="url(#d)" marker-end="url(#d)"/>
<polyline points="491,191 487,212 490,205 490,202 487,203 496,177 488,202 490,207 498,183 521,125 493,211 488,212 488,208 491,182 491,190 492,189 489,214 495,198 490,204 508,156 501,166 487,214 504,61 499,167 498,178 500,185 492,199 497,202 488,146 489,203 488,198 496,184 499,182 493,205 492,206 492,177 497,151 505,165 496,164 492,186 499,185 489,205 490,199 489,217 494,181 501,118 495,189 495,188 499,152 498,195 499,162 490,203 495,169 494,188 497,183 488,207 504,170 497,176 489,212 513,153 494,184 491,197 500,171 490,185 488,211 491,201 494,206 497,206 495,180 499,165 489,206 488,214 532,124 493,182 506,172 498,179 487,200 494,207 489,201 492,190 500,183 490,211 490,179 495,172 500,176 493,198 490,210 498,184 493,190 493,195 488,190 489,195 492,201 502,156 490,191 504,160 492,212 491,188 488,209 490,195 491,181 489,196 487,206 508,155 503,170 492,188 501,184 501,179 489,198 492,197 500,164 525,148 490,192 492,198 490,186 495,157 495,195 502,196 516,131 496,193 490,182 495,186 489,209 494,192 501,186 490,200 501,170 511,147 502,169 489,207 489,202 493,184 498,176 493,189 495,177 490,193 488,201 491,209 491,203 488,196 496,171 503,182 503,168 510,117 487,208 503,166 490,181 494,196 491,212 492,195 488,210 487,211 496,144 491,202 493,206 497,192 520,132 495,202 494,173 489,208 495,185 503,181 535,65 491,214 502,176 491,199 491,196 490,198 497,198 497,186 498,186 488,192 502,183 502,195 497,194 497,142 536,157 488,204 487,181 502,172 507,155 499,192 494,168 500,190 495,182 488,216 488,213 491,207 487,215 507,182 496,198 498,155 488,200 495,191 512,161 490,197 498,160 498,182 493,164 500,198 500,175 492,178 489,189 489,193 490,201 487,213 497,181 494,193 540,96 501,138 489,200 489,215 495,193 492,208 498,162 491,186 499,195 493,162 496,197 497,180 494,191 490,209 510,165 495,174 492,200 491,213 529,132 502,161 496,141 490,194 494,180 504,161 488,206 492,184 502,168 491,204 492,204 493,188 496,158 487,209 503,159 493,186 491,185 505,150 502,155 509,169 499,184 489,204 493,192 493,176 506,173 522,75 494,182 493,185 497,188 492,191 494,174 493,183 487,198 491,178 495,154 515,138 487,220 499,146 501,187 490,212 491,208 496,170 493,194 513,148 497,172 489,211 492,194 494,202 497,200 506,186 489,194 495,173 494,204 488,217 491,206 494,179 492,202 490,206 488,205 487,197 516,122 487,204 490,177 495,181 499,161 490,196 508,118 507,163 495,190 501,153 505,171 512,154 495,203 509,153 490,190 495,136 497,169 492,183 500,177 540,99 495,166 493,201 489,210 516,151 501,173 494,183 490,214 492,203 488,219 488,215 507,122 505,153 502,174 495,197 500,160 488,197 506,152 516,139 491,189 499,178 489,213 508,139 502,149 503,161 497,162 501,165 493,207 491,183 491,198 494,166 493,193 491,165 510,131 494,199 500,169 489,190 525,115 490,213 504,159 495,209 498,193 496,199 493,177 506,174 500,172 491,175 495,187 489,192 494,201 501,164 494,151 501,96 494,190 493,127 505,177 504,181 499,190 488,194 491,210 503,133 504,136 498,174 497,144 521,142 506,163 507,150 496,181 487,164 498,172 489,191 498,166 505,121 495,170 498,142 519,172 497,177 492,196 508,169 493,158 499,172 502,177 507,157 509,127 488,199 495,147 497,190 495,192 503,175 492,179 497,195 497,90 487,205 511,92 496,179 500,168 496,182 510,144 487,210 513,152 491,195 495,199 500,187 504,194 502,170 495,183 498,161 530,161 508,136 496,191 490,188 501,156 494,187 511,159 492,185 501,180 517,149 498,181 499,139 499,204 499,201 502,200 491,193 499,181 506,98 502,163 494,195 501,190 499,191 523,131 487,217 491,194 496,173 496,162 504,191 497,205 521,115 489,199 488,179 492,187 500,167 499,177 501,177 502,125 495,178 535,107 515,129 494,198 504,172 519,133 543,83 497,179 503,178 512,112 493,197 506,147 500,159 508,192 494,189 509,128 500,182 493,167 504,197 495,175 497,160 493,173 487,207 497,163 494,197 496,188 505,181 504,139 487,218 507,178 503,187 499,180 513,89 500,163 495,194 493,171 512,120 522,154 502,171 510,170 496,165 496,192 503,155 501,168 497,165 497,199 489,180 498,163 508,163 495,205 501,152 498,171 494,169 500,180 497,196 507,140 515,142 516,102 499,170 504,138 490,166 493,181 493,191 493,196 487,199 514,147 496,185 493,161 500,188 511,133 497,167 499,183 489,182 503,191 516,148 492,170 540,112 493,200 497,171 492,182 517,109 505,174 495,159 491,179 509,159 504,176 497,191 496,155 487,216 499,193 500,161 500,165 498,190 488,203 491,192 495,156 499,143 506,125 512,166 503,164 499,197 502,152 512,135 512,165 496,161 501,83 498,188 492,180 509,104 487,193 503,109 487,202 498,185 491,205 508,110 546,125 506,183 488,218 498,191 490,151 514,156 492,205 499,155 491,187 497,62 490,180 529,120 512,168 492,152 495,171 506,154 496,195 490,208 493,208 501,145 510,134 507,168 499,175 489,185 498,180 492,207 504,166 500,178 492,213 496,150 510,132 518,121 495,204 494,194 495,164 501,178 494,156 493,174 493,172 502,164 499,148 499,198 494,157 498,175 496,200 492,193 520,133 507,161 500,69 517,176 501,191 509,151 497,182 493,202 519,149 508,111 498,156 492,192 499,176 508,126 496,194 515,151 507,176 500,194 512,106 499,187 505,160 509,145 503,189 501,202 496,187 501,150 502,173 507,126 501,193 506,145 506,115 496,178 509,163 508,179 511,165 493,179 506,136 509,171 504,178 488,193 505,110 500,136 507,156 507,167 496,172 507,137 493,178 495,208 501,189 509,131 504,167 520,174 502,154 508,122 503,194 493,187 497,187 496,168 506,185 505,167 506,166 536,135 487,196 504,143 521,96 504,185 506,164 498,165 495,200 509,180 493,180 489,187 494,108 499,189 489,178 510,128 488,154 501,192 500,146 494,185 505,141 490,175 498,192 487,201 505,156 489,171 496,203 527,106 519,97 495,196 504,157 488,220 503,180 494,208 499,169 503,167 500,181 499,168 496,183 493,209 506,137 513,159 509,130 508,149 490,187 519,138 489,174 497,170 496,186 495,184 492,169 492,181 494,162 507,175 515,172 496,196 519,137 508,160 505,159 499,163 507,142 510,145 497,193 495,179 514,40 497,174 508,184 492,166 519,83 525,128 500,184 528,104 498,153 502,194 505,135 493,203 494,176 512,148 520,95 503,145 488,195 490,215 537,37 504,100 507,127 511,150 488,184 520,158 492,211 503,150 500,142 501,68 499,164 504,183 516,150 504,171 506,149 490,189 505,164 499,157 502,144 521,144 488,173 499,186 490,216 505,163 510,93 530,156 492,171 491,211 496,189 497,184 494,165 515,169 498,196 509,140 498,167 501,175 522,117 499,179 497,166 505,175 499,166 518,78 498,173 494,203 498,199 530,75 500,76 506,155 493,166 513,110 495,132 488,191 488,188 505,158 508,142 511,152 487,195 496,160 494,209 499,199 505,152 493,199 496,159 501,149 512,150 521,140 501,167 511,137 491,180 491,200 497,207 512,162 504,164 503,172 499,205 501,182 503,198 500,199 500,203 500,174 509,146 508,105 499,159 508,180 518,120 498,169 502,187 508,104 496,175 500,179 502,180 502,186 498,187 494,186 500,139 496,190 487,191 506,128 507,154 489,184 501,171 495,207 498,189 519,107 498,28 520,123 509,123 497,153 498,198 488,186 521,56 513,102 513,145 491,168 488,189 497,197 525,95 487,178 501,154 506,175 498,135 500,191 510,176 494,172 512,126 508,173 503,65 501,169 493,157 518,152 505,155 519,90 508,133 506,161 497,138 489,188 508,172 513,136 507,141 505,129 513,137 490,184 487,221 513,108 498,203 548,110 508,107 492,209 509,179 531,132 487,219 499,171 509,143 542,150 488,185 495,151 496,176 495,201 492,159 494,154 498,177 508,181 503,146 511,121 489,197 502,131 507,153 492,176 500,186 487,194 506,122 494,211 516,144 526,100 506,157 511,169 501,162 512,139 524,149 517,136 496,204 497,161 499,150 502,150 507,160 506,182 500,170 514,152 502,159 497,158 513,88 498,168 506,179 509,155 497,164 504,156 505,162 513,114 508,117 525,122 491,184 519,108 498,146 494,155 493,210 515,155 508,166 516,136 507,165 500,150 493,175 511,184 526,113 497,175 500,195 508,175 497,156 502,188 509,165 497,189 513,103 500,153 499,200 506,156 509,157 507,40 491,177 494,177 497,150 496,180 503,188 500,156 501,188 515,125 512,43 503,117 498,200 519,139 502,184 491,129 506,184 509,111 492,143 506,162 495,113 510,159 515,139 506,189 494,200 507,171 508,150 493,169 517,129 508,130 508,157 493,135 502,182 494,167 503,171 495,161 495,160 529,80 492,168 495,162 518,116 496,167 502,175 512,158 506,112 487,184 509,148 502,153 494,178 505,169 506,192 531,112 511,156 501,136 498,109 507,144 537,103 491,133 504,130 550,76 498,157 507,189 502,181 513,155 511,127 493,204 496,156 502,139 501,157 507,136 497,201 492,155 505,180 496,174 528,121 496,202 507,134 522,139 510,148 513,156 520,152 502,160 500,141 504,154 495,168 512,129 506,139 514,126 502,191 487,186 490,113 497,140 500,121 514,148 489,148 507,149 512,100 495,176 506,114 517,161 499,144 506,146 502,147 503,162 501,133 507,159 518,170 505,112 510,164 524,134 506,132 500,162 503,190 527,113 501,181 512,156 487,192 502,117 500,155 500,157 509,164 489,118 489,216 508,154 531,115 507,166 503,169 521,151 504,174 508,165 511,166 515,150 494,149 525,142 524,129 493,141 504,169 514,163 497,178 497,139 526,70 488,187 530,139 509,122 502,123 511,120 499,128 518,159 495,165 495,153 492,210 505,147 488,177 491,173 490,171 510,163 490,168 513,134 498,170 509,166 530,88 505,145 527,134 501,163 505,168 500,151 487,190 501,134 510,141 506,177 501,155 521,180 510,149 503,153 503,152 514,132 505,176 510,140 514,95 504,177 496,208 492,142 526,111 501,185 494,159 516,158 521,117 526,134 504,150 511,112 506,159 510,122 510,136 496,163 497,185 499,188 509,158 502,162 496,169 534,133 500,134 501,161 502,158 498,150 523,164 488,180 512,116 518,125 508,146 504,187 519,135 496,201 510,156 502,140 499,174 510,105 511,153 530,121 512,122 525,117 511,97 503,183 500,149 511,143 497,173 487,189 492,174 498,111 492,149 494,122 505,97 498,107 526,42 509,24 541,42 512,95 514,43 526,37 495,134 494,140 503,55 498,141 511,28 531,29 520,82 493,116 502,83 522,81 492,118 502,38 507,68 492,165 511,89 499,108 502,126 502,133 493,133 493,150 538,35 495,152 492,115 529,68 499,52 524,64 492,154 503,97 495,122 513,99 539,33 494,161 530,60 496,112 504,121 501,40 496,102 540,35 510,108 525,51 543,29 497,68 497,147 507,51 509,27 494,100 506,82 504,115 494,101 506,62 514,91 495,117 505,114 497,134 527,27 497,67 538,24 547,50 550,57 535,34 541,63 529,43 544,98 548,116 525,28 532,74 606,151 576,164 548,178 543,182 519,192 547,74 494,223 500,213" fill="none" stroke="none" marker-start="url(#x)" marker-mid="url(#x)" marker-end="url(#x)"/>
<polyline points="338,381 367,382 353,381 293,400 303,397 364,381 217,451 358,390 355,375 322,391 304,401 301,408 297,408 320,396 326,390 331,381 388,371 354,393 338,408 386,368 292,407 283,413 337,391 251,425 247,436 327,387 322,394 370,381 338,379 327,404 325,396 296,404 229,443 288,408 344,388 290,412 312,408 211,450 359,378 282,420 299,409 365,372 327,388 361,376 339,389 349,378 268,431 330,391 327,392 311,398 335,390 257,432 314,390 306,398 281,410 357,376 313,393 383,366 335,401 336,376 339,386 343,382 281,415 320,382 295,414 315,396 269,419 380,374 292,404 342,378 303,404 364,369 342,376 277,411 360,382 375,365 368,375 333,390 280,415 288,404 372,368 331,390 286,407 365,377 340,389 333,388 312,394 316,398 295,395 248,433 364,379 322,388 330,385 306,401 350,381 241,433 244,431 275,419 380,368 341,380 318,391 328,407 309,417 335,388 344,382 310,400 328,387 352,380 369,373 281,408 373,376 217,445 350,373 356,376 278,427 317,393 357,380 232,440 354,376 348,386 293,406 289,409 311,397 286,411 309,401 375,375 333,387 308,419 300,411 376,365 320,395 383,370 327,391 328,390 367,387 349,380 334,392 365,379 316,391 371,385 260,431 318,390 328,391 376,376 297,404 356,384 343,383 347,402 338,388 381,374 307,398 315,393 290,414 254,423 291,420 370,386 360,379 273,413 336,387 324,389 335,391 341,390 304,420 378,371 322,400 338,386 339,398 287,408 258,429 316,397 351,370 357,379 348,376 273,419 369,378 355,376 328,385 370,369 252,429 237,429 297,407 297,418 288,412 332,385 248,436 335,386 284,411 343,388 238,439 305,404 374,369 330,393 341,394 337,384 288,419 249,427 355,380 378,366 361,373 254,433 308,401 306,404 273,421 338,391 305,399 363,377 355,378 277,416 352,389 289,414 339,394 269,426 341,381 339,390 358,387 356,378 307,406 347,374 363,378 367,377 283,410 242,437 340,384 292,402 332,387 375,368 297,411 321,386 270,417 313,402 278,413 342,382 359,380 313,388 312,395 330,390 292,408 296,402 307,396 321,390 265,419 350,374 334,394 303,405 263,429 351,379 278,414 277,422 265,425 368,369 299,407 304,402 359,375 337,396 287,407 319,393 365,383 312,403 346,386 269,425 348,380 353,379 358,376 343,376 312,392 259,430 328,395 351,372 299,412 329,382 350,383 367,376 276,417 287,416 355,384 340,387 347,378 374,378 353,387 315,390 340,385 287,415 351,377 351,388 347,379 320,388 317,394 245,438 360,374 330,388 314,396 331,383 313,392 359,374 314,392 279,414 387,362 281,414 346,380 358,382 371,373 268,424 385,369 274,430 333,394 350,386 288,415 370,371 292,413 352,378 323,383 245,431 305,393 305,407 321,398 256,426 388,365 366,384 370,380 296,412 315,404 293,408 276,423 245,440 276,416 286,419 362,382 324,391 287,412 342,387 299,401 328,386 301,401 338,377 315,398 354,379 364,370 286,412 278,415 273,416 383,374 374,373 294,416 326,381 325,385 370,368 249,430 305,397 336,381 260,418 295,418 322,398 365,373 351,383 358,384 351,387 361,371 343,391 349,373 304,396 284,415 351,384 284,421 370,375 335,389 373,371 282,425 327,389 268,418 379,369 333,384 355,377 345,387 340,386 376,372 319,389 317,389 344,381 359,381 308,404 342,384 291,404 331,387 348,377 233,438 323,392 316,389 347,382 328,383 266,423 332,384 332,389 372,378 249,433 339,383 331,388 262,421 335,383 293,425 365,386 321,396 350,380 346,376 331,398 356,377 322,393 357,375 316,400 332,376 349,391 351,382 326,391 308,405 358,375 313,400 360,385 354,384 346,378 246,448 314,398 362,377 334,386 331,380 343,381 334,384 317,400 287,410 302,402 302,405 319,392 389,363 310,394 320,394 312,397 334,401 375,379 366,373 313,394 299,404 325,390 344,380 262,420 305,400 325,391 289,421 317,395 358,374 323,385 352,372 321,388 312,407 330,382 290,415 305,401 346,374 352,386 256,425 348,387 357,378 320,398 258,425 343,386 340,379 313,405 339,380 298,407 323,399 328,396 339,385 290,411 378,359 302,406 304,400 298,412 318,388 352,382 346,391 289,417 306,407 352,381 325,394 371,370 341,399 338,398 352,387 350,376 309,400 298,414 325,388 279,410 278,412 279,425 285,415 301,403 378,365 241,440 323,393 233,435 321,391 299,413 287,414 337,386 317,390 357,374 283,417 371,380 367,374 342,395 253,423 342,392 336,397 292,409 376,371 366,371 273,411 305,403 245,436 359,388 370,372 386,365 337,387 342,379 333,381 376,370 336,392 308,403 327,399 236,446 347,380 345,379 317,387 361,372 351,381 308,406 263,421 277,415 304,399 320,391 372,371 367,373 343,377 361,379 208,445 354,371 280,419 355,374 344,383 291,413 299,399 374,364 299,400 345,380 274,421 246,436 266,414 300,399 351,380 336,389 363,384 302,398 351,389 339,396 349,379 313,395 345,389 314,393 241,442 379,393 301,413 323,390 362,373 320,403 302,409 304,404 263,427 300,415 285,409 258,424 292,416 349,381 371,376 300,402 326,387 276,412 365,389 323,398 356,388 260,434 363,375 218,450 328,393 262,427 299,396 321,389 380,366 306,396 250,424 314,402 282,410 332,388 377,370 334,383 340,388 306,394 333,398 335,385 331,382 289,419 334,387 284,420 357,373 278,411 330,386 348,382 299,403 312,410 330,389 344,372 272,425 371,375 270,423 297,406 361,375 369,381 251,431 288,413 323,388 371,369 261,431 285,411 324,383 319,390 279,419 310,407 384,368 350,379 274,417 353,382 230,438 364,371 283,414 327,395 284,407 279,409 301,402 254,431 292,415 277,409 322,389 246,431 350,378 298,418 316,390 316,402 366,368 305,405 349,371 336,399 373,368 346,382 381,377 345,388 277,419 368,378 271,415 268,429 307,404 373,374 245,433 337,382 260,428 321,393 388,373 282,406 316,394 353,377 366,378 387,375 299,406 321,394 374,376 375,381 312,399 351,385 314,403 319,404 258,431 332,390 342,388 294,415 294,407 300,405 312,400 306,408 339,387 272,416 303,399 246,432 316,395 333,377 297,405 336,388 335,387 282,413 346,389 264,434 380,369 290,418 290,409 386,363 302,407 336,384 386,373 376,366 250,435 336,398 345,382 308,400 307,394 214,450 331,393 290,419 307,399 261,420 244,433 319,399 290,404 226,439 296,406 378,377 367,369 268,421 306,399 292,410 276,420 270,425 282,422 308,402 307,400 266,419 355,389 343,390 330,401 337,389 270,424 298,417 357,377 328,394 233,431 366,375 260,430 354,374 321,392 286,409 361,382 382,365 296,401 363,382 315,400 305,398 326,393 223,443 326,396 363,371 367,370 305,395 374,370 326,384 269,423 252,423 386,357 255,421 281,409 316,393 338,383 348,378 333,391 291,411 231,442 345,381 289,406 382,366 256,429 318,389 341,386 236,438 326,392 303,409 341,382 285,412 368,373 378,369 322,396 362,379 302,412 356,380 302,414 347,375 308,410 371,366 255,431 356,371 330,381 309,389 261,423 298,409 269,424 342,390 378,379 383,358 380,370 365,382 338,393 328,381 302,401 276,411 355,379 371,381 279,415 231,451 278,410 288,409 334,382 318,402 342,386 315,388 322,397 368,376 296,407 347,383 305,408 314,395 326,389 364,382 343,384 386,375 243,435 378,375 233,444 283,423 291,402 266,427 323,391 335,378 272,418 356,373 332,386 318,405 363,388 314,397 273,420 332,392 352,376 298,406 387,372 347,391 318,401 317,405 353,368 286,413 339,384 347,381 364,365 322,399 301,398 370,377 305,402 345,386 373,365 375,371 244,435 387,370 262,419 253,425 331,406 312,393 304,394 336,386 358,388 373,369 307,403 219,448 275,416 341,373 302,410 367,368 265,422 275,415 320,393 303,398 331,385 349,383 362,376 257,426 335,380 384,367 352,383 269,429 334,389 366,376 354,377 363,372 289,407 306,400 335,393 372,367 230,446 288,407 357,372 351,375 341,383 266,422 365,371 255,436 313,396 334,379 334,385 308,395 316,396 366,374 346,385 324,393 379,377 303,408 361,374 336,395 327,403 266,430 354,383 259,427 379,374 364,373 304,403 277,420 366,377 276,413 296,403 316,408 283,422 323,386 325,379 370,378 315,394 331,396 306,413 372,373 266,429 265,429 302,399 368,379 373,366 184,467 378,370 257,425 345,370 370,373 380,373 310,403 270,415 348,388 388,362 301,399 389,366 369,363 311,401 307,395 276,418 225,441 366,383 335,394 342,380 348,384 250,425 268,423 253,428 349,382 252,426 295,402 329,390 253,437 347,385 349,393 309,397 263,433 346,384 381,372 234,436 352,384 286,414 328,389 337,385 386,364 344,379 322,392 311,399 325,405 301,409 296,405 320,399 302,391 359,373 361,378 309,409 368,381 311,395 320,386 340,383 378,385 279,418 355,372 307,405 299,395 327,398 290,405 258,436 354,380 356,383 306,403 341,384 265,420 342,383 333,386 320,389 293,411 348,385 350,385 267,421 330,400 338,384 256,421 298,403 345,392 313,389 325,380 329,395 309,398 235,435 292,411 314,406 262,429 367,389 310,401 271,418 366,366 275,412 274,413 300,393 346,387 385,370 311,404 354,378 279,422 358,379 278,421 387,367 364,374 384,369 349,385 312,398 338,392 371,377 304,405 239,435 320,397 294,414 341,400 322,402 288,416 315,402 288,417 267,424 322,395 295,413 355,388 357,395 375,370 360,373 340,376 345,384 359,382 303,394 342,394 308,398 282,419 325,392 343,385 384,366 292,414 268,425 351,386 363,380 289,410 304,410 304,414 385,375 374,383 379,376 361,386 340,375 318,394 289,412 271,425 309,393 316,404 386,374 347,386 280,424 248,439 375,367 288,402 229,442 298,408 353,383 325,398 329,392 321,402 386,380 355,370 261,419 325,387 295,408 271,424 296,414 378,368 314,408 318,397 263,446 300,404 324,387 343,397 340,382 348,379 271,426 304,398 387,366 303,407 371,368 309,411 310,396 363,381 308,394 288,399 205,445 279,420 361,369 386,378 261,425 311,402 341,379 339,379 344,384 321,399 379,367 347,387 329,397 264,419 295,400 258,440 306,402 311,393 357,368 238,438 271,417 356,374 299,398 362,378 358,378 240,433 366,369 341,392 360,367 299,411 308,412 359,370 279,413 313,406 377,379 343,395 312,401 205,457 359,385 300,403 264,428 347,377 218,448 294,411 367,375 362,383 338,382 293,415 307,402 320,407 337,390 355,383 350,389 356,382 342,393 347,388 298,401 275,425 315,397 237,440 341,378 350,371 277,414 360,380 247,427 285,410 309,405 329,389 260,421 375,374 328,392 328,397 353,389 319,395 248,428 321,395 382,378 303,402 329,387 255,433 373,373 284,418 341,388 343,378 235,442 294,403 320,390 360,393 240,441 299,402 302,404 252,427 317,401 346,383 283,427 290,403 348,381 297,399 334,390 326,399 324,388 353,378 324,392 283,412 296,410 273,425 295,401 326,388 343,396 381,373 317,399 295,403 301,396 373,377 267,419 271,422 375,366 294,410 245,443 259,425 224,445 290,413 231,438 263,437 344,386 312,402 360,370 355,381 307,401 372,372 337,394 368,370 374,374 309,394 266,424 363,373 250,434 309,407 386,362 381,366 221,447 269,420 280,414 345,373 313,404 295,407 302,408 368,377 379,364 308,397 356,386 359,371 382,364 346,399 382,371 328,388 265,421 347,393 353,386 234,437 296,411 302,411 367,386 349,392 310,411 339,388 307,397 329,384 273,423 248,437 375,372 358,377 253,429 358,386 369,371 354,385 364,376 310,406 308,396 294,400 307,408 318,398 299,405 344,395 378,383 351,368 339,378 370,367 267,429 329,396 349,374 314,405 333,392 368,390 358,372 371,374 260,427 303,410 246,441 325,395 358,381 304,406 365,388 365,375 314,410 353,374 367,381 370,382 277,423 284,409 351,376 325,389 280,417 280,413 326,395 311,391 283,425 259,428 345,383 382,368 366,382 320,401 301,405 383,372 335,398 326,394 295,404 240,435 275,418 294,413 374,363 332,396 268,422 251,432 368,371 313,390 357,382 282,421 263,424 324,395 275,421 231,445 388,369 327,396 291,405 291,406 315,401 354,367 248,432 386,366 311,406 287,411 208,450 354,386 236,441 348,394 274,425 340,390 266,420 341,374 336,385 274,418 299,410 320,387 274,419 271,419 349,386 249,426 369,375 386,376 309,399 348,375 364,367 272,424 239,433 360,372 353,375 350,382 344,385 276,414 382,375 339,392 260,444 275,420 333,382 325,393 292,406 241,436 362,365 363,386 327,390 281,413 324,403 298,400 333,396 350,387 312,404 324,394 372,362 349,388 308,414 360,376 385,378 367,372 330,387 276,426 385,376 280,412 281,412 378,367 388,370 324,398 267,425 338,390 369,374 303,403 374,372 362,375 329,394 326,386 311,392 289,411 333,389 270,418 306,397 238,435 253,439 303,411 368,372 387,371 285,418 285,421 324,401 371,371 385,361 293,405 330,380 324,386 310,413 296,400 297,402 376,367 223,439 354,372 363,366 333,378 300,407 375,380 340,380 384,376 329,386 273,422 260,424 265,423 362,372 239,442 265,424 225,442 267,426 356,393 332,382 379,366 343,371 374,368 303,401 384,371 258,428 251,427 293,409 293,416 326,401 346,379 264,429 237,434 338,380 317,392 329,393 384,377 376,373 372,374 358,373 329,388 341,387 231,441 345,377 353,380 359,379 250,443 364,380 287,419 351,374 298,398 380,376 351,391 320,392 278,432 299,397 354,381 312,390 277,413 237,444 366,380 344,377 350,384 385,362 320,400 373,370 388,379 301,406 236,440 352,390 282,417 295,411 335,384 373,384 323,395 377,378 363,374 367,385 364,375 354,387 295,409 311,394 313,398 320,385 298,402 270,419 353,385 331,395 331,389 345,378 355,386 186,389 210,407 186,422 194,422 207,423 174,434 238,500 222,524 198,509 168,505 129,496 212,482 188,485 110,500 120,496 241,439 308,408 333,432 334,396 371,403 388,382 365,390 157,492 143,500 178,489 297,437 261,421 372,356 385,358" fill="none" stroke="none" marker-start="url(#d)" marker-mid="url(#d)" marker-end="url(#d)"/>
<polyline points="167,477 128,495 111,520 159,486 157,500 135,490 196,476 144,482 163,492 204,472 261,464 179,475 144,503 120,493 115,505 140,492 170,475 168,485 176,483 154,485 191,491 158,474 235,469 216,460 129,490 226,477 210,459 206,479 211,469 176,482 202,472 147,486 150,476 138,504 197,473 209,460 181,482 172,476 173,479 199,485 228,460 195,479 176,505 207,482 154,487 164,481 152,497 185,488 153,486 214,484 190,486 192,478 210,474 203,479 208,474 158,486 193,475 184,485 144,485 225,469 199,488 153,490 247,460 118,501 187,479 167,483 211,459 159,484 146,481 169,479 187,468 201,464 192,481 210,472 155,483 143,487 277,458 179,479 230,455 204,473 126,510 187,471 153,491 172,483 211,461 107,498 162,496 164,508 192,468 214,464 138,491 178,474 157,470 113,500 204,461 181,483 182,482 161,480 141,492 173,477 219,472 162,493 226,461 176,478 167,479 143,490 160,485 169,492 154,494 133,498 235,462 224,476 168,497 172,482 215,469 103,516 217,483 177,479 213,478 166,485 267,441 164,487 176,473 164,500 192,477 218,468 253,461 150,497 196,468 164,479 189,478 171,482 144,495 155,495 192,488 186,493 158,493 215,467 123,496 116,500 141,484 156,479 120,499 216,484 244,462 219,485 148,494 124,500 151,477 183,487 205,470 182,487 190,485 143,499 142,488 124,499 165,480 104,495 143,485 196,471 222,466 224,467 241,471 136,490 223,479 159,475 188,480 165,496 177,486 137,493 114,493 121,503 133,490 136,489 197,482 171,490 183,467 199,480 157,490 106,501 259,456 142,491 191,470 188,484 149,488 221,461 281,452 165,479 200,468 219,463 175,483 169,491 118,503 170,476 161,481 201,475 202,467 206,486 137,499 116,489 218,469 220,463 199,464 202,489 282,447 138,485 140,499 134,491 152,485 218,471 234,464 209,468 189,470 213,462 191,478 145,483 139,492 146,489 166,480 156,482 130,506 136,485 233,454 140,485 196,485 206,481 137,490 193,468 246,461 150,507 164,498 205,466 115,496 206,460 181,488 130,490 211,463 214,458 177,476 147,490 148,496 155,488 125,507 162,484 104,514 131,482 152,486 200,472 188,470 287,443 152,495 101,498 152,479 191,504 129,495 142,489 169,483 177,490 203,473 167,488 151,491 209,467 180,482 172,485 198,468 137,494 173,493 114,498 202,470 185,470 159,474 155,504 241,463 194,479 123,508 174,473 171,479 179,488 154,490 274,457 148,499 221,463 197,481 123,487 162,482 203,480 186,480 161,492 123,491 226,469 128,492 176,479 218,467 165,490 176,488 173,480 180,497 196,488 163,484 149,487 136,491 222,468 213,481 215,471 124,494 183,480 171,475 229,477 153,485 218,460 148,482 239,468 176,492 211,465 160,479 161,494 125,494 180,472 154,489 180,477 231,462 180,489 263,454 121,496 186,477 155,487 181,479 199,469 156,493 203,470 175,472 201,488 187,482 116,511 184,474 101,510 182,492 134,492 122,499 167,481 192,482 251,457 134,490 209,474 216,491 124,495 158,487 135,489 193,478 164,480 197,474 179,480 199,476 148,483 133,503 166,486 174,493 136,494 113,510 176,486 210,470 105,511 147,480 187,472 105,496 201,472 194,471 187,487 116,498 230,461 158,481 150,496 182,481 154,493 152,491 150,492 148,484 194,472 187,485 137,495 165,484 205,469 187,483 174,480 112,495 160,490 142,495 202,481 144,499 253,465 100,501 125,500 143,483 160,489 189,488 117,491 158,492 236,479 157,495 233,464 191,472 138,494 157,480 217,468 227,463 175,481 246,454 189,463 237,468 140,490 160,483 206,464 162,501 192,484 173,484 202,476 172,479 213,494 287,445 138,492 158,503 192,472 178,473 150,494 253,447 216,479 138,499 162,475 172,474 176,469 117,492 150,498 140,484 234,460 228,465 218,473 190,475 211,475 145,501 232,471 253,466 168,492 208,472 150,481 140,501 235,454 219,486 203,476 145,492 200,463 149,498 215,480 179,483 170,482 170,479 147,483 168,480 166,489 155,496 185,482 182,478 133,499 143,496 193,474 241,470 185,476 212,457 202,465 116,495 178,476 153,483 213,472 152,498 179,484 176,477 156,483 267,459 141,491 225,467 190,476 205,483 163,477 195,473 151,476 204,470 129,503 141,495 180,493 232,456 212,478 165,481 172,488 135,507 193,481 161,489 215,474 210,467 120,508 140,494 184,467 215,464 186,478 178,479 144,488 207,473 229,458 209,458 219,461 147,488 144,505 167,478 122,501 223,466 227,466 127,493 206,472 113,506 132,494 200,494 163,473 261,453 231,453 234,476 194,480 135,500 149,507 126,506 204,471 228,474 143,495 195,487 189,489 193,472 259,455 222,474 110,499 201,469 174,489 235,460 182,477 150,483 154,486 141,486 209,480 119,495 114,501 159,483 187,473 219,460 235,465 168,481 192,469 159,489 142,487 239,469 148,498 163,491 143,491 193,477 203,487 110,510 104,506 194,484 191,490 223,472 199,463 199,472 164,499 135,483 242,471 130,494 157,483 161,490 206,475 191,460 164,488 162,490 195,471 139,490 172,491 101,497 240,457 153,500 213,466 128,496 247,458 169,487 139,491 161,479 192,476 211,462 122,491 185,478 115,495 189,473 220,469 180,467 124,520 127,492 184,483 190,492 206,469 275,455 170,499 99,504 235,466 157,481 195,477 139,501 164,493 195,488 214,467 244,446 268,450 178,483 217,459 254,458 145,496 206,474 208,469 208,465 169,484 208,455 145,491 218,457 145,488 153,495 171,488 191,475 151,481 208,483 112,499 218,486 188,473 124,491 217,475 175,485 207,480 128,490 265,456 190,472 159,501 170,483 131,499 168,498 196,481 133,502 207,468 197,491 170,481 164,482 226,465 144,490 202,475 164,468 262,463 144,496 148,491 142,490 170,487 213,476 163,483 168,476 208,471 217,453 114,497 219,483 185,490 188,469 149,483 281,447 142,498 252,455 178,472 175,478 188,474 143,500 186,463 258,462 170,469 290,456 111,501 202,478 244,472 152,487 194,482 160,482 180,484 231,458 216,471 235,461 187,476 239,467 217,454 212,458 113,502 148,501 133,494 220,482 226,466 200,475 127,507 139,498 113,499 188,464 171,499 159,497 132,501 128,508 178,497 186,468 156,486 107,511 159,503 103,508 186,470 178,486 142,494 228,473 173,489 146,504 225,466 132,509 223,470 132,491 178,485 114,510 187,474 234,477 128,482 199,477 140,497 153,488 165,504 150,485 125,503 209,472 168,478 222,470 161,470 208,479 247,462 212,475 191,469 183,481 144,480 144,487 244,451 186,490 121,497 192,467 192,492 200,469 126,496 126,488 178,477 263,464 215,463 219,470 240,467 145,504 172,484 169,486 166,496 117,486 200,476 195,470 178,491 174,486 197,486 221,469 215,478 172,473 191,474 210,466 160,486 185,497 159,477 103,499 141,482 136,486 118,493 191,471 207,469 237,459 169,501 184,477 144,497 147,491 142,501 185,480 159,485 190,487 124,504 186,474 118,486 177,466 190,470 199,468 233,459 121,489 161,483 200,478 222,478 234,480 102,508 116,499 210,477 250,455 154,484 252,480 210,478 217,476 226,480 115,500 158,475 181,475 165,494 177,482 149,489 113,496 180,475 184,484 205,476 190,482 131,493 203,458 248,460 202,469 193,465 210,475 198,482 134,500 169,485 158,504 176,480 130,501 189,500 122,494 127,499 182,483 211,466 243,457 201,487 160,484 179,478 127,511 156,491 210,480 147,487 168,493 166,488 110,500 128,506 185,481 171,487 209,476 150,489 149,495 223,457 112,502 174,476 108,511 287,449 117,505 212,476 216,468 154,498 157,485 188,490 144,509 201,478 255,442 146,493 169,476 228,483 193,464 236,476 185,484 162,492 161,493 210,471 169,478 119,508 151,488 168,487 143,494 171,485 118,506 238,458 225,463 202,474 195,484 208,467 212,477 117,493 184,473 160,468 171,478 205,463 211,473 190,491 121,493 209,487 232,467 213,465 171,472 170,491 246,456 222,475 209,462 142,510 113,522 169,482 177,472 220,479 244,448 189,484 182,485 156,484 153,481 153,492 113,492 179,490 187,477 135,494 245,462 164,485 198,481 188,493 192,470 168,474 197,480 148,477 140,496 142,497 222,459 129,498 211,468 177,478 238,476 126,508 223,464 127,503 133,510 204,476 132,499 177,481 143,501 170,494 293,441 168,490 231,457 168,491 143,498 206,463 157,479 186,481 249,480 180,488 174,475 208,477 101,515 167,485 164,494 170,495 180,471 173,481 200,482 135,510 139,500 160,494 274,453 153,484 245,442 158,472 106,520 162,483 174,478 198,490 194,468 161,475 232,473 197,487 135,488 135,499 151,495 187,496 181,481 214,478 171,491 180,481 240,469 122,497 234,471 202,468 207,483 199,470 147,489 173,470 163,494 153,493 171,480 145,495 131,494 147,509 172,471 168,502 179,474 176,496 226,464 159,499 214,468 172,468 109,502 178,480 123,502 126,495 103,501 157,474 188,477 148,492 176,474 181,484 141,494 241,476 185,477 161,495 256,454 201,468 192,471 186,487 192,485 118,496 122,496 195,475 215,472 153,482 188,482 103,510 179,485 137,487 219,474 181,492 191,473 192,473 141,502 210,469 185,492 158,482 167,491 188,481 203,471 130,495 100,504 194,469 177,491 161,478 259,447 234,461 203,472 212,467 109,491 255,455 149,484 216,452 180,478 239,450 142,503 151,512 203,467 138,507 259,454 173,483 236,469 209,473 181,491 152,489 236,453 191,464 250,456 160,487 233,453 177,484 148,503 125,508 114,496 173,487 245,460 208,464 227,467 156,481 223,460 169,493 183,477 110,508 184,478 195,485 218,466 130,496 106,498 148,485 219,467 233,475 122,504 215,462 158,494 230,456 230,471 198,469 119,494 163,479 219,469 238,460 139,493 124,501 237,451 196,478 134,504 137,485 242,450 157,489 118,492 109,499 125,495 227,457 183,490 229,462 191,488 197,483 135,493 146,494 138,490 202,471 188,485 224,475 166,483 227,476 211,483 175,488 234,466 198,470 118,507 152,502 234,465 190,468 189,471 113,495 137,489 162,480 159,476 239,472 172,492 166,487 183,473 116,509 138,503 175,473 225,479 202,463 120,495 110,509 190,502 182,476 260,454 158,480 220,481 104,499 135,501 178,481 216,482 184,489 237,461 171,484 183,486 203,475 196,473 170,485 224,468 196,483 163,509 230,458 189,469 178,470 228,459 232,460 158,488 283,461 140,487 165,482 130,504 172,498 152,496 174,491 148,500 167,489 132,490 224,477 261,469 225,476 167,487 163,476 203,485 195,483 203,483 162,488 230,462 199,478 238,467 144,486 140,488 136,500 149,497 174,483 194,474 119,498 182,491 151,487 146,487 168,483 139,496 150,491 164,478 166,482 147,493 149,494 163,490 112,507 113,498 192,489 168,468 130,500 166,479 174,479 154,491 224,486 210,462 189,462 208,463 155,484 148,506 241,460 166,474 175,482 146,496 186,473 216,474 214,473 143,489 188,475 135,512 227,471 205,474 154,492 116,496 137,501 191,476 169,488 123,495 129,510 185,487 123,497 166,491 195,459 201,473 271,458 258,447 193,459 225,474 187,475 120,497 165,489 104,504 171,486 224,465 114,495 181,489 185,467 138,495 116,502 187,467 212,459 207,484 195,465 176,481 136,506 130,511 187,481 175,480 230,476 141,508 152,484 237,476 148,497 236,468 147,503 259,451 157,487 136,502 135,491 132,483 186,485 244,453 195,468 212,472 135,495 177,493 115,509 212,466 131,495 105,504 157,478 210,486 116,494 194,473 174,481 114,507 174,490 204,481 149,499 110,490 232,464 123,500 133,500 251,451 196,484 184,487 116,497 137,483 258,454 122,495 229,466 118,491 234,467 240,471 160,478 203,478 151,482 139,484 183,492 183,484 101,502 190,481 168,482 249,465 138,488 174,484 186,472 115,504 126,501 108,503 201,494 237,452 196,466 259,449 268,449 130,493 211,457 193,488 179,471 181,490 187,484 272,451 189,477 204,484 161,488 221,456 121,504 117,490 151,485 163,485 214,471 220,457 229,465 171,469 182,469 189,491 244,470 195,481 159,495 161,482 173,476 117,499 168,484 181,470 199,482 145,499 192,474 143,480 199,490 260,464 222,469 163,481 155,500 224,479 129,494 160,481 214,474 283,446 226,462 233,458 194,465 164,483 184,476 244,466 203,481 114,499 130,491 126,500 177,473 144,492 179,491 130,492 143,497 128,485 194,470 170,489 197,475 119,509 128,491 165,491 175,493 191,480 212,481 222,463 168,489 148,488 205,467 191,482 162,479 148,487 233,461 101,505 142,496 132,495 211,476 189,492 201,467 150,495 145,497 150,479 205,471 139,489 198,488 159,491 151,483 184,491 166,481 133,512 173,473 252,446 225,458 212,468 190,490 169,490 132,510 151,479 138,498 231,475 198,475 161,487 229,460 148,478 126,499 220,466 125,509 262,464 146,495 137,504 192,491 172,490 157,484 121,508 159,487 229,473 141,490 133,495 158,490 171,502 240,479 117,496 189,468 275,450 177,492 120,490 143,486 162,497 161,485 115,507 152,492 151,499 146,488 165,486 124,490 156,496 152,488 148,509 160,499 167,482 201,466 148,489 190,473 217,466 138,511 151,494 178,484 200,493 205,487 244,455 183,488 213,471 237,463 192,462 204,467 153,480 184,499 216,465 123,489 143,504 177,471 145,485 167,480 263,451 194,477 210,479 199,471 164,491 134,489 165,478 214,475 153,475 146,482 189,472 104,510 256,457 126,490 127,500 212,462 124,498 190,471 134,501 218,474 160,476 205,462 102,511 200,496 275,454 177,480 145,490 195,472 213,479 231,463 131,500 149,485 190,477 206,470 165,499 124,506 170,477 145,500 199,465 181,474 170,474 220,467 214,472 190,489 171,496 173,495 243,467 157,499 186,479 193,476 124,488 139,503 228,471 183,478 149,496 235,468 236,456 215,483 245,464 262,451 154,482 156,480 108,497 158,485 214,465 164,492 214,463 200,466 105,495 205,479 173,475 236,461 187,501 101,501 112,500 136,493 153,489 242,474 182,479 118,509 146,491 125,510 134,509 129,507 188,483 111,502 196,457 131,490 160,488 131,509 135,486 132,500 118,508 244,465 158,498 217,467 169,496 150,486 165,487 153,498 225,462 181,476 222,461 207,457 224,454 196,470 214,462 163,506 211,464 238,474 236,472 138,506 208,475 237,455 149,501 143,488 194,494 162,499 194,483 115,498 196,486 203,488 177,487 150,493 150,499 185,475 175,484 152,490 256,455 136,492 219,459 243,465 176,491 118,494 237,472 153,506 130,487 201,476 173,474 152,480 237,462 214,461 220,464 152,481 210,465 194,467 189,485 235,467 219,468 155,491 164,486 197,477 184,482 105,507 141,500 192,480 178,490 117,511 151,489 190,478 196,477 135,505 146,501 232,462 220,458 233,467 209,471 215,461 134,488 120,502 178,478 219,462 259,470 157,482 260,460 239,454 140,511 165,473 175,477 115,508 155,494 155,481 109,507 162,510 168,496 200,470 223,458 225,470 131,484 155,501 110,503 208,470 196,467 140,486 151,493 210,468 262,453 191,467 174,487 155,485 197,476 185,483 247,451 155,479 189,494 160,475 169,509 194,486 177,488 110,494 175,486 123,505 224,466 101,508 130,515 184,469 185,486 164,490 236,463 248,463 215,460 148,481 155,502 171,489 154,476 143,509 147,485 267,446 136,499 216,477 230,465 213,468 147,492 213,474 172,487 184,493 188,487 241,459 245,459 108,494 166,494 189,483 197,470 199,487 102,504 130,499 182,498 244,460 223,465 215,466 157,477 212,463 160,496 168,495 171,494 256,463 127,506 197,471 206,476 156,475 172,504 235,463 119,514 126,493 215,465 117,494 160,495 232,466 202,492 151,486 156,497 129,504 186,482 236,452 247,468 169,473 164,507 228,469 161,500 165,474 175,479 189,481 163,480 247,456 219,473 186,497 158,500 189,475 127,495 174,488 109,510 247,463 195,464 208,480 295,442 162,489 175,475 102,503 236,471 166,476 174,472 133,493 117,508 238,447 151,492 277,450 215,458 140,489 157,496 182,474 177,483 238,463 142,492 122,493 289,432 184,494 207,481 193,467 191,500 162,486 163,501 157,475 110,501 217,486 178,493 197,466 209,483 194,475 184,481 225,460 140,495 177,474 162,487 193,479 202,479 206,477 126,504 170,478 146,500 188,472 125,506 243,463 154,480 150,503 198,474 155,503 220,476 182,486 117,498 156,478 182,480 143,493 159,496 204,480 173,482 199,467 183,479 171,483 154,504 106,506 150,478 119,501 231,464 212,461 189,476 230,475 147,501 269,463 169,477 162,478 165,492 242,464 179,467 169,480 163,488 266,457 134,493 107,510 255,454 167,496 107,504 162,485 192,490 201,471 110,502 153,497 152,470 132,492 143,506 234,463 163,497 110,496 220,487 111,494 185,471 216,466 230,473 186,475 114,494 211,474 142,486 217,462 250,454 172,478 203,489 210,461 132,505 109,509 116,507 103,492 137,503 246,449 201,496 152,507 230,460 189,486 238,457 221,467 149,492 128,502 162,491 176,495 145,487 163,498 248,474 152,509 236,466 115,494 191,479 237,473 195,489 268,456 206,473 170,486 259,461 205,489 181,472 174,485 186,486 169,498 137,492 251,458 198,461 196,480 180,480 237,458 252,447 198,493 233,466 214,477 131,502 231,469 146,475 205,468 242,451 223,461 145,493 184,472 183,495 193,483 197,461 155,482 186,467 171,495 153,487 227,461 115,492 167,473 270,440 221,476 211,471 102,502 236,460 187,469 233,460 119,496 184,490 220,477 237,469 144,498 201,463 248,459 212,469 139,499 220,470 207,474 120,500 159,480 125,498 119,489 231,468 107,496 183,485 238,459 246,459 235,455 171,470 160,477 190,488 109,497 171,481 196,482 184,475 202,497 233,456 166,503 203,462 197,492 182,475 121,494 208,466 164,484 159,482 215,457 154,481 123,510 156,476 121,502 153,477 148,507 172,496 251,455 173,488 173,467 221,485 165,493 154,479 202,483 192,466 132,514 258,464 126,494 196,490 107,508 197,485 202,473 163,489 127,502 141,498 221,471 239,466 205,480 178,492 204,474 178,489 177,475 190,480 160,480 134,510 105,502 207,470 180,479 158,479 137,506 146,485 251,446 183,470 200,486 178,482 195,467 137,491 236,454 150,477 159,490 162,502 190,467 255,448 237,467 174,496 191,468 199,474 157,493 179,489 138,497 223,468 172,494 204,488 104,493 129,500 159,506 235,474 172,480 114,508 184,486 273,443 176,487 189,499 257,444 219,466 110,507 151,502 160,491 232,474 154,499 118,500 226,471 200,480 136,507 174,494 125,502 146,498 131,491 104,502 191,483 182,470 208,473 148,480 108,508 239,465 219,475 189,479 131,497 207,472 141,488 228,467 218,456 120,501 146,484 215,477 211,477 128,493 137,488 218,477 165,477 230,448 276,449 243,456 216,476 142,485 234,459 127,496 145,477 218,485 103,500 230,484 158,483 225,471 297,453 116,503 203,477 205,461 101,503 234,455 140,493 128,507 143,481 166,501 159,504 188,467 148,495 216,462 185,485 148,486 238,454 195,478 156,477 247,461 144,491 243,464 204,482 156,490 135,504 186,488 238,466 119,506 227,473 109,504 173,499 145,507 196,475 134,506 156,498 206,483 124,497 180,483 185,468 113,508 217,473 179,476 208,492 197,488 131,508 135,482 218,472 206,478 174,477 152,504 144,500 151,478 137,496 153,494 182,489 197,472 200,481 122,503 233,477 141,487 101,496 198,473 129,508 167,475 217,474 272,455 144,489 205,464 233,479 147,478 218,465 263,450 241,453 181,478 180,487 203,484 199,473 259,444 220,472 231,461 214,489 118,511 109,498 127,501 159,488 176,475 176,484 112,512 140,498 117,495 148,490 244,456 183,482 133,486 133,497 141,507 112,504 205,486 105,500 226,458 159,494 181,477 101,506 184,479 126,503 165,488 155,480 112,509 150,488 156,487 188,468 146,492 158,496 233,462 195,476 246,470 213,467 194,488 122,513 132,507 232,470 168,488 255,446 104,501 209,478 136,488 150,480 185,473 230,467 178,475 146,508 221,457 135,498 215,479 181,486 256,473 137,486 173,485 218,462 168,473 210,481 205,477 172,481 193,494 216,458 266,458 186,494 230,470 185,474 204,463 198,471 146,480 178,494 271,452 216,469 245,470 172,475 108,498 176,485 138,505 134,494 101,507 214,479 150,487 196,472 213,475 159,479 112,490 200,464 203,482 121,500 217,477 170,490 239,451 196,489 149,480 114,506 150,500 156,500 181,471 190,461 132,496 225,464 276,450 200,483 195,469 223,480 199,486 115,493 170,472 104,509 100,499 125,490 218,461 99,512 222,473 249,454 160,492 262,460 128,510 204,477 120,507 164,496 155,486 236,455 139,504 186,501 199,466 243,455 117,501 141,496 177,498 175,495 254,451 167,476 268,446 125,504 266,448 179,481 100,509 225,465 248,447 202,482 269,465 182,473 196,501 217,472 132,508 230,472 152,482 147,496 114,504 167,493 275,452 108,505 240,456 106,499 169,469 209,469 116,490 127,491 192,487 221,459 208,481 177,496 142,493 192,475 133,488 215,473 211,480 164,474 153,503 228,476 165,483 118,495 194,495 120,494 169,489 225,457 147,497 144,506 221,470 165,475 178,500 140,508 151,498 197,493 140,503 207,458 234,457 168,486 199,481 207,465 203,474 157,503 242,468 119,497 139,507 186,484 175,469 180,470 171,500 239,461 229,470 142,478 169,495 110,495 182,471 160,472 191,489 203,469 163,493 146,483 118,497 253,455 206,484 213,460 144,494 240,466 150,490 249,471 215,468 205,472 261,444 236,462 204,466 138,489 240,453 224,470 248,465 158,489 173,486 151,501 152,493 196,469 229,453 242,469 138,493 143,508 249,460 104,496 248,456 120,504 133,491 141,493 117,497 148,502 222,455 119,505 269,458 216,467 109,496 122,492 184,470 133,492 185,499 131,506 261,461 270,452 217,490 154,500 201,482 207,485 188,489 127,488 155,490 137,509 111,500 132,493 220,460 226,468 126,498 168,479 231,456 241,455 173,478 169,497 128,501 209,466 113,497 209,456 204,489 182,488 238,468 130,502 280,453 217,464 223,453 179,493 187,489 207,467 169,500 122,506 156,492 203,486 138,509 265,447 180,486 176,498 158,507 183,472 191,485 257,465 130,498 179,492 123,507 213,461 128,488 206,466 192,479 208,476 164,504 131,507 219,482 202,466 226,463 121,499 163,475 257,462 166,484 149,481 177,489 156,485 164,502 183,476 144,501 186,476 147,506 198,463 242,461 110,505 243,454 121,498 112,514 135,496 181,469 275,447 239,463 246,458 133,489 212,474 170,480 122,507 165,476 125,491 112,494 230,466 268,463 167,498 129,485 191,493 224,462 142,504 106,495 134,486 153,509 213,483 179,486 242,465 224,463 243,466 157,486 179,504 131,492 134,507 232,461 127,528 116,516 117,522 118,519 130,527 188,530 141,511 149,534 185,521 112,527 103,522 135,535 104,523 105,528 147,522 112,533 124,531 130,516 125,520 183,534 99,527 102,524 116,522 107,524 171,512 101,522 110,515 188,521 183,521 114,530 101,530 164,521 179,513 153,520 119,517 100,515 168,531 103,535 146,536 105,513 99,513 129,513 139,531 118,521 145,511 103,520 113,517 102,526 124,517 109,516 143,526 184,535 119,536 163,513 147,514 125,522 116,520 129,522 109,515 119,515 135,534 136,533 100,525 106,524 183,513 173,522 99,532 144,530 127,532 141,524 126,524 104,517 204,478 175,489 188,471 228,470 269,451 288,442 244,457 249,456 270,450 194,478 221,464 242,453 276,447 260,451 183,471 218,463 242,457 207,478 284,444 189,482 273,459 267,455 221,473 247,454 286,447 275,461 226,467 287,450 240,465 268,448 202,459 233,476 239,471 230,468 229,457 250,453 191,477 229,464 271,453 285,444 294,439 297,442 281,445 288,447 274,452 291,444 295,438 268,455 278,450 335,381 317,403 295,414 289,422 258,432 294,441 99,505 185,479" fill="none" stroke="none" marker-start="url(#x)" marker-mid="url(#x)" marker-end="url(#x)"/>
<line x1="99" y1="506.9" x2="389.4" y2="416.6" stroke="#000" stroke-width="2.6"/>
<line x1="200" y1="453.7" x2="389.4" y2="366.7" stroke="#3e3e3e" stroke-width="2.6"/>
<polyline points="725,413 755,403 740,400 681,404 691,421 751,408 604,438 745,410 742,413 710,404 691,414 688,432 685,429 707,410 714,424 718,409 775,401 742,399 725,409 773,390 679,422 670,431 724,414 638,424 634,431 715,408 710,424 757,403 726,402 715,399 713,424 684,425 616,425 676,429 732,416 677,417 699,417 598,437 746,398 669,417 687,425 752,403 714,423 748,412 727,417 737,395 655,422 717,415 714,418 751,412 698,421 723,404 644,430 701,414 694,408 668,419 744,402 700,420 770,394 722,398 723,410 727,409 730,408 669,428 707,422 683,428 703,412 656,433 767,388 679,431 730,412 691,406 751,392 729,409 665,437 748,407 762,389 755,399 720,412 668,435 676,427 759,397 718,420 674,421 753,396 727,412 720,415 700,429 704,422 683,427 635,434 752,397 718,418 694,417 737,387 628,440 699,429 631,426 663,435 767,394 729,398 706,406 716,409 751,405 696,426 722,416 731,395 697,427 715,403 739,402 756,403 669,426 760,403 604,422 738,411 744,404 666,430 705,420 744,403 619,418 726,408 742,409 714,402 735,404 681,412 677,435 674,411 696,421 763,406 720,408 696,427 687,424 764,399 707,414 770,392 715,423 715,421 754,402 737,408 721,417 752,407 704,410 758,409 648,419 706,426 715,415 763,404 684,415 743,396 734,407 726,419 768,398 695,425 702,421 677,414 641,435 679,429 757,387 747,394 660,422 723,418 711,406 722,419 729,389 692,425 766,401 710,400 726,415 674,430 645,430 739,404 744,412 735,413 661,425 757,405 743,404 752,409 715,412 757,407 639,436 631,425 624,430 684,423 684,408 675,430 720,406 636,436 722,406 671,431 730,414 625,440 692,417 761,391 717,419 744,409 729,401 724,416 676,434 721,419 636,427 743,409 765,394 749,395 641,434 696,413 693,418 661,431 726,418 692,401 750,413 742,402 664,414 739,414 753,411 676,431 720,413 727,418 724,409 656,436 729,412 745,409 743,411 694,414 735,403 751,407 754,400 671,424 629,440 728,404 679,430 719,422 762,394 700,428 684,428 709,413 728,412 658,420 700,412 665,405 729,407 746,402 700,411 699,421 679,421 684,416 694,431 709,416 652,432 738,410 691,409 651,409 739,411 665,420 665,429 665,415 652,413 756,401 687,414 692,412 746,414 725,419 675,424 706,422 753,404 700,419 734,404 656,419 735,409 740,392 746,401 730,410 699,426 646,430 738,400 675,418 686,430 717,405 737,417 754,405 663,430 674,405 743,398 735,417 776,390 761,404 748,406 740,413 702,425 727,415 674,428 738,415 738,399 735,400 700,421 705,424 633,437 748,411 717,420 701,405 718,414 700,413 758,404 701,409 666,418 738,406 774,395 668,436 734,413 758,405 663,416 655,420 773,402 661,416 673,405 721,420 708,402 757,398 739,412 647,438 710,416 632,414 692,418 692,430 734,396 708,420 643,422 775,393 753,406 684,409 702,418 663,417 633,433 713,420 663,433 673,420 750,409 712,422 674,426 730,399 686,432 716,419 689,414 715,409 726,411 717,414 751,401 666,421 661,428 770,390 762,402 681,431 768,404 678,417 713,421 757,406 636,430 693,413 647,431 682,432 710,408 752,411 746,386 738,396 733,409 748,400 731,415 736,406 691,416 672,421 738,392 723,421 694,426 761,406 669,419 715,413 655,428 767,398 688,427 743,394 733,417 727,405 763,397 706,428 704,407 732,394 747,405 695,422 730,417 678,429 718,406 739,394 647,420 735,402 620,435 765,401 710,421 704,429 734,415 715,411 735,410 653,417 719,417 760,408 636,422 708,418 718,415 650,435 722,415 680,412 676,425 752,406 677,418 708,412 737,414 733,406 710,420 725,421 745,389 730,404 727,408 703,407 719,424 702,401 737,416 700,417 713,423 695,421 746,413 748,394 741,409 708,421 734,405 633,413 701,396 750,407 721,414 719,405 729,416 705,427 674,423 690,429 690,407 706,413 776,400 697,423 699,409 721,416 763,400 753,392 700,424 686,422 753,393 713,417 731,402 649,422 750,403 713,415 677,419 705,404 709,409 700,418 677,430 693,420 733,415 739,413 643,433 736,417 745,412 707,425 646,425 731,410 684,432 727,419 700,422 727,403 685,424 711,420 716,412 677,429 766,389 689,417 647,427 705,425 740,407 733,414 676,430 666,415 693,419 739,405 712,416 758,408 728,420 739,408 737,413 696,424 685,423 712,421 667,430 707,421 666,404 666,429 673,426 689,427 766,397 628,422 674,429 671,404 710,418 620,431 709,424 671,434 687,412 742,410 674,412 703,423 704,423 744,401 670,404 730,401 640,409 729,414 740,403 679,428 764,403 753,407 661,411 693,412 632,418 746,405 724,410 730,402 764,406 724,415 714,412 623,440 735,390 732,417 705,412 749,412 738,397 695,413 651,434 674,417 691,425 708,425 759,399 688,408 755,410 731,404 749,407 703,425 596,433 741,401 683,425 667,429 743,399 731,411 679,425 687,430 761,402 664,425 744,415 662,429 634,438 718,422 653,428 687,427 724,419 692,419 726,405 708,408 750,401 690,416 738,413 726,420 736,413 700,415 732,411 701,412 629,429 766,405 734,394 678,431 710,415 750,411 708,424 689,410 691,428 651,436 680,411 687,413 673,421 646,424 710,423 679,419 736,415 758,406 687,417 720,411 650,430 663,436 710,417 743,412 647,437 750,388 751,406 606,444 715,410 699,420 649,436 686,423 744,410 708,416 767,396 693,424 637,416 669,427 652,434 720,420 721,402 694,428 720,394 722,405 743,407 718,419 721,421 712,409 671,417 725,405 744,399 665,407 718,417 736,412 703,420 687,408 717,412 719,416 659,433 745,402 758,407 658,431 684,410 673,411 748,414 756,405 638,439 695,411 710,405 648,437 672,429 712,414 716,413 737,405 707,423 667,422 697,408 771,389 737,409 743,414 692,424 617,436 751,403 709,400 729,390 714,415 671,416 666,427 689,422 642,434 679,424 664,423 710,402 698,422 688,433 695,407 738,395 685,430 703,416 753,400 758,396 692,414 736,407 685,419 666,419 707,407 760,391 668,410 734,412 711,411 768,402 732,407 664,432 756,394 658,427 655,425 695,424 761,405 647,433 720,417 709,411 719,415 736,397 730,415 776,401 670,422 704,402 741,410 774,399 686,426 708,426 762,405 762,398 700,408 761,377 703,397 700,427 710,422 708,413 701,420 706,425 666,426 645,427 738,409 720,414 730,419 681,410 682,427 688,429 691,426 738,405 700,414 659,418 732,404 690,415 726,417 633,431 703,402 721,398 685,416 697,409 722,414 652,428 677,416 685,422 774,391 723,408 774,398 763,399 637,437 715,420 723,420 733,404 695,415 694,412 601,425 634,430 650,434 677,432 648,426 631,440 706,409 678,430 733,392 613,440 683,416 765,396 755,405 655,417 693,430 630,429 680,423 628,433 664,430 657,432 670,415 755,397 695,427 654,435 742,390 686,428 764,398 745,399 727,402 715,417 620,430 647,422 664,431 732,410 744,413 741,415 708,404 673,415 634,423 749,389 770,383 683,415 750,406 703,426 692,422 714,409 611,429 707,426 677,428 734,418 713,412 751,389 754,394 693,414 761,396 714,403 656,439 639,427 773,391 721,413 643,428 714,419 714,410 706,421 763,402 663,425 669,422 703,421 746,408 725,415 735,414 678,433 745,401 619,441 710,419 769,404 717,422 644,422 706,404 729,411 623,435 717,413 714,413 690,428 728,418 673,410 765,386 689,416 689,423 695,429 723,422 642,421 743,405 700,426 648,436 725,416 730,406 766,403 771,391 753,409 673,429 677,425 725,408 677,408 664,427 758,400 667,431 618,425 686,415 665,427 675,408 721,404 705,419 706,411 678,407 709,421 756,385 734,399 692,409 714,417 752,401 656,418 666,433 774,401 630,442 765,405 620,436 671,426 654,429 693,415 660,412 743,397 719,410 666,406 717,409 726,413 701,427 661,430 719,408 774,389 734,402 705,411 740,397 727,416 710,410 710,414 689,405 758,390 693,427 732,414 704,416 760,399 763,405 631,435 775,402 723,402 650,426 713,398 640,436 675,432 699,422 691,430 723,399 745,393 694,415 606,424 699,416 662,425 751,398 728,414 740,411 689,412 652,417 662,417 737,415 708,414 714,414 718,423 749,405 644,421 722,410 771,381 709,420 657,427 751,409 721,405 753,405 741,407 734,414 676,426 686,412 694,406 722,413 617,444 676,424 698,430 745,403 714,405 728,416 654,432 709,423 752,399 723,412 642,432 695,426 724,405 733,418 712,411 688,414 664,424 690,424 748,403 724,418 714,416 654,414 647,430 766,404 752,404 691,424 753,398 711,414 663,420 713,419 684,417 703,427 727,411 743,410 670,427 711,405 712,426 773,395 686,410 719,423 759,398 653,424 678,420 734,419 690,409 755,404 754,409 685,407 571,436 766,382 739,398 645,425 733,411 767,401 747,410 698,406 657,428 735,396 666,434 701,425 775,396 719,414 763,398 689,402 777,398 698,417 694,419 664,420 757,409 675,411 612,427 754,406 730,420 736,419 655,434 641,424 736,418 728,417 639,432 682,406 755,401 716,415 641,432 761,392 672,422 704,413 718,410 697,417 768,388 622,419 740,405 709,397 724,421 773,401 702,422 710,413 704,426 712,418 688,411 668,407 707,411 690,427 747,409 725,420 755,398 698,420 719,407 765,404 767,404 729,413 726,416 694,421 733,407 686,417 714,411 677,426 645,417 742,405 729,415 693,404 729,419 653,411 721,418 681,426 737,403 699,411 654,422 758,395 644,425 740,412 693,406 712,408 716,414 701,416 696,416 709,412 719,413 622,432 713,418 680,416 701,401 650,432 697,424 659,417 725,397 664,416 754,411 663,410 698,424 662,418 772,390 698,399 742,404 667,423 721,409 706,412 689,424 745,413 737,412 665,428 745,398 751,390 772,388 736,405 680,425 759,393 691,429 702,417 626,433 707,424 682,422 729,405 730,411 703,411 675,414 655,413 709,414 682,413 743,403 745,404 762,393 728,421 675,431 745,408 746,412 690,423 730,396 715,422 695,418 694,423 669,415 699,419 749,406 731,420 731,397 771,399 680,420 714,406 655,415 702,405 763,387 738,412 750,405 697,425 676,420 692,416 691,411 773,400 695,409 666,412 767,405 749,392 727,407 706,415 659,424 658,424 703,424 758,398 717,421 774,396 668,428 670,405 636,429 762,399 658,433 728,396 616,415 734,409 740,414 712,417 717,417 648,432 713,411 682,412 676,410 684,430 765,402 749,397 732,403 693,426 702,411 707,396 690,410 688,418 711,410 735,406 659,436 674,410 688,419 774,400 731,409 633,414 743,401 759,403 722,412 697,419 697,413 726,401 750,404 696,423 593,435 749,390 648,429 742,412 729,410 647,419 703,415 727,420 734,406 717,410 652,429 682,414 646,433 675,423 677,413 704,420 698,398 744,408 625,425 658,418 717,408 686,414 680,415 749,396 745,407 628,421 691,410 742,403 750,399 712,405 747,400 709,402 711,424 746,393 667,416 671,429 767,385 735,412 730,394 687,431 699,407 592,433 688,430 651,407 606,439 681,422 754,403 749,411 726,414 680,427 752,395 714,397 679,418 700,407 645,436 703,413 708,411 689,429 695,423 714,425 732,419 662,410 624,415 728,410 664,422 747,390 634,439 676,402 709,422 672,415 716,420 736,414 648,416 762,401 721,415 687,426 706,416 715,424 715,419 698,418 707,427 636,419 617,430 769,386 698,423 642,422 755,386 705,413 729,396 741,414 622,426 681,418 715,395 701,408 747,407 627,410 687,416 774,388 681,423 747,395 671,422 685,405 655,430 741,408 713,422 712,398 708,422 670,416 686,427 684,421 678,427 716,411 692,432 713,400 768,400 704,405 683,430 764,402 678,422 688,423 761,383 723,405 655,433 658,404 753,401 762,395 755,400 746,392 682,415 632,440 708,417 646,427 611,432 694,409 618,437 650,438 755,408 699,427 747,398 742,415 694,422 748,408 759,408 725,407 755,383 762,397 697,418 653,434 751,393 682,405 720,410 692,426 758,403 696,406 676,435 638,425 773,389 709,419 768,397 608,435 690,426 656,432 759,405 747,402 667,415 722,417 732,415 701,426 683,423 690,422 673,427 756,407 712,420 688,409 766,396 696,420 721,389 744,414 661,436 736,399 743,413 747,414 769,396 653,425 734,401 622,425 762,403 695,428 709,410 747,412 698,425 741,396 701,399 716,422 660,417 635,428 716,423 663,438 734,410 746,404 641,437 732,399 687,406 741,402 751,411 697,428 704,421 695,404 682,417 659,413 739,385 720,418 689,430 698,415 710,412 723,415 705,421 755,394 686,418 731,403 683,431 654,428 716,404 727,404 756,406 746,409 736,411 647,429 690,417 745,405 712,412 749,401 745,400 718,393 728,419 752,393 752,412 701,419 740,404 711,413 664,417 671,412 739,415 713,405 668,413 737,402 668,430 757,401 751,399 699,410 707,418 673,408 671,430 769,400 753,408 707,415 770,400 723,407 741,413 623,442 685,428 762,400 627,418 691,427 733,401 740,415 701,428 680,426 749,391 647,432 682,409 712,415 762,406 719,420 732,397 726,421 655,438 677,431 741,411 638,428 701,423 759,402 718,411 670,425 650,421 665,426 711,412 686,408 663,427 619,430 678,426 678,415 741,395 636,432 747,408 773,397 698,416 682,421 694,430 749,402 596,426 624,424 648,431 736,404 730,418 750,395 678,428 661,434 727,406 654,423 732,395 661,412 687,428 708,428 661,433 678,414 715,396 760,390 636,437 756,399 696,414 745,406 689,421 752,410 626,425 748,404 639,426 732,400 732,391 714,400 769,403 713,426 662,435 737,396 716,421 736,410 694,404 713,409 710,426 679,417 654,426 674,415 707,409 658,406 750,400 714,407 668,425 726,409 732,402 711,404 759,389 747,382 701,407 754,399 729,417 736,408 773,384 667,421 668,416 765,399 696,425 775,398 738,408 712,424 698,407 656,437 726,403 699,415 690,406 761,389 669,425 733,403 717,397 714,399 699,425 688,416 683,413 657,430 626,431 711,418 690,404 756,397 775,394 748,409 672,428 739,403 708,399 772,400 714,408 718,416 732,418 697,400 684,422 764,394 611,442 735,416 680,432 729,394 733,412 731,408 660,431 675,419 739,400 676,403 749,400 731,407 627,415 737,394 649,414 653,420 740,410 724,398 686,429 613,429 716,403 655,412 737,406 656,410 657,420 740,402 719,403 682,418 766,392 731,418 749,410 762,404 690,419 772,398 705,422 639,428 658,435 680,408 713,407 760,398 651,432 672,410 625,433 758,399 726,406 704,406 666,420 771,388 728,401 669,429 647,416 618,438 734,416 747,401 725,418 748,399 638,440 687,433 628,436 680,428 771,392 742,400 700,425 734,417 690,411 664,428 624,412 754,410 676,418 772,401 740,416 776,397 728,415 701,421 709,427 624,414 747,411 669,404 682,420 710,409 755,411 741,406 702,424 699,399 751,404 720,424 686,421 685,421 657,422 673,417 707,413 666,432 704,428 662,431 718,421 730,392 670,434 733,416 742,408 574,452 597,446 574,455 581,458 594,444 562,460 625,331 609,439 585,450 556,484 516,505 599,516 575,553 498,415 508,427 628,458 763,427 696,353 721,380 717,386 776,371 752,376 722,375 763,375 544,469 530,477 565,465 759,394" fill="none" stroke="none" marker-start="url(#d)" marker-mid="url(#d)" marker-end="url(#d)"/>
<polyline points="554,435 515,460 498,450 546,451 545,446 523,447 583,424 532,446 551,452 592,428 648,397 567,459 532,460 507,455 502,465 527,455 558,427 556,434 563,434 541,464 578,442 546,449 622,411 604,417 516,464 613,377 598,417 594,424 598,430 563,443 589,447 534,406 537,448 525,442 584,429 597,428 569,451 560,452 561,424 587,408 615,416 582,415 564,431 595,430 542,450 551,443 539,469 573,426 540,451 602,394 577,434 579,433 597,409 591,439 596,414 546,447 580,418 572,432 589,428 531,453 612,419 586,423 540,461 635,409 506,449 575,429 554,441 598,420 547,430 533,460 556,446 574,452 589,451 580,426 597,416 543,452 530,465 664,396 567,427 617,420 591,425 513,444 541,445 560,434 598,428 494,461 549,460 551,425 579,421 601,423 526,459 566,442 544,457 500,471 592,429 569,434 570,439 548,459 528,434 540,439 560,446 606,411 550,435 613,413 564,461 554,433 530,455 547,439 556,427 542,440 520,451 622,410 611,419 555,446 559,433 602,429 491,470 605,425 542,442 564,441 600,416 553,427 655,407 551,436 563,442 552,431 581,412 579,439 606,440 641,399 538,439 584,437 551,428 577,431 558,435 531,461 543,456 579,419 573,436 546,450 603,431 511,447 503,459 528,464 544,444 508,439 603,419 631,406 607,418 536,453 511,453 539,447 571,429 593,423 569,433 578,424 530,454 552,437 529,445 511,442 552,456 555,448 491,479 530,440 583,420 610,427 611,418 628,394 523,455 610,417 546,427 576,440 553,461 564,438 524,458 502,475 508,445 521,459 524,457 585,405 558,446 570,451 587,436 544,450 493,451 647,400 530,447 578,447 576,421 537,455 579,429 609,426 668,378 552,464 587,428 607,423 562,446 557,443 505,460 557,440 549,442 588,442 590,430 593,431 524,436 503,477 605,428 608,439 586,438 590,404 670,411 525,455 527,449 521,427 539,451 606,421 621,411 597,436 576,418 600,434 579,428 533,468 527,458 533,463 553,452 543,464 517,466 523,459 621,428 527,468 583,442 594,410 524,445 581,435 633,414 538,452 552,441 592,413 502,460 594,427 568,415 517,460 599,442 601,422 564,424 535,433 535,437 543,442 513,466 550,445 492,447 518,462 540,440 587,427 576,437 675,387 605,402 540,445 489,481 540,465 579,437 516,452 529,455 557,445 564,454 591,414 554,431 538,453 596,439 568,414 559,425 585,441 524,463 560,433 501,462 589,426 572,435 546,456 542,437 629,416 581,422 510,449 561,445 559,462 541,439 661,400 535,451 608,414 584,404 510,443 549,443 573,440 549,438 510,475 574,426 614,413 516,454 533,451 563,429 605,418 552,449 563,451 560,449 567,432 584,412 551,439 536,446 523,456 609,413 600,428 602,425 512,466 570,431 558,430 616,408 541,433 605,410 536,445 626,418 508,459 598,429 547,458 542,448 548,439 567,436 541,442 567,423 618,421 567,450 651,381 508,453 574,427 569,430 587,433 543,450 590,428 563,435 574,440 504,465 571,422 488,441 569,428 521,442 509,465 541,456 554,425 554,449 579,410 638,402 576,436 522,476 596,406 603,432 512,462 545,460 523,462 581,439 552,454 585,419 567,438 634,407 586,420 535,460 520,464 554,447 535,448 561,449 523,463 500,451 563,438 597,429 493,461 534,446 575,447 493,459 589,444 575,432 503,468 617,430 538,437 569,438 542,438 540,448 518,458 537,440 535,449 581,421 574,449 525,470 552,451 593,430 575,425 500,469 547,451 530,450 522,441 531,451 641,396 487,478 512,449 531,455 547,424 577,427 504,474 597,414 545,440 624,394 545,451 620,415 579,435 526,454 604,409 614,420 562,449 533,462 633,410 542,447 577,448 625,409 527,462 547,435 594,425 549,434 580,401 560,442 590,418 559,428 600,424 557,449 674,388 526,456 545,439 579,417 565,445 538,457 640,408 604,421 575,428 550,464 559,446 564,447 536,439 504,468 538,456 525,475 528,465 622,396 615,409 559,447 606,422 577,441 599,413 532,441 619,409 640,403 555,433 595,424 579,434 537,463 527,451 623,403 606,407 579,446 574,436 532,451 588,414 537,442 602,416 566,453 558,443 557,430 534,455 555,455 554,428 555,442 542,457 572,417 569,437 520,448 530,445 557,416 580,416 629,399 572,443 555,443 600,418 590,438 565,443 541,451 539,444 566,430 563,454 537,435 543,469 655,393 551,462 529,457 612,412 577,455 592,437 550,459 583,443 539,461 531,456 516,461 529,454 568,423 619,422 600,420 552,423 559,445 522,449 580,431 542,436 575,445 548,451 602,415 508,460 528,452 572,408 602,387 573,434 566,398 531,446 594,437 616,424 613,427 597,434 607,413 535,447 531,438 554,457 509,464 610,400 614,402 514,461 584,424 593,422 501,463 567,428 520,452 587,405 550,450 648,404 619,415 622,408 582,427 523,415 543,447 592,420 513,448 592,417 616,395 582,443 577,419 581,437 584,440 646,420 609,414 516,462 497,456 588,424 561,431 564,440 623,418 569,412 538,454 541,438 597,420 507,452 501,458 546,457 606,424 555,441 547,431 626,397 535,455 550,443 530,443 580,406 590,434 498,470 491,469 581,431 579,436 611,422 560,425 587,439 586,385 551,434 523,450 630,386 545,448 548,443 593,421 584,425 552,443 511,444 601,417 549,449 583,427 526,455 560,441 489,462 628,405 540,437 600,430 515,458 634,409 556,439 526,446 549,445 580,443 599,431 614,438 509,454 573,429 503,479 577,432 607,419 567,437 512,452 572,434 578,428 594,414 662,413 558,450 487,460 568,442 622,401 545,457 583,435 551,432 582,429 602,411 631,412 656,393 565,430 604,426 641,407 595,403 595,450 557,442 546,436 595,445 532,436 605,444 540,455 559,437 579,422 596,426 499,470 618,388 605,415 576,439 511,458 604,434 563,444 595,435 515,449 653,399 559,438 558,433 518,469 556,438 583,421 520,459 595,446 584,414 558,444 552,435 614,435 539,440 532,450 590,450 649,393 531,444 536,444 529,425 557,453 565,431 591,437 555,447 596,424 605,424 501,471 607,397 593,414 572,428 576,429 537,446 581,424 563,441 668,390 530,463 639,399 565,439 572,426 563,432 575,442 530,446 573,437 645,400 558,464 515,469 677,383 498,455 590,425 610,425 632,392 581,426 586,419 567,441 538,449 618,406 601,412 622,436 574,433 627,398 500,458 535,452 521,450 571,417 608,415 614,441 587,413 514,451 526,445 569,421 501,459 575,443 520,453 515,454 543,454 590,415 573,441 543,451 547,437 494,475 546,441 491,446 573,433 565,438 529,450 582,433 515,464 615,427 533,449 613,403 611,416 520,471 565,437 501,439 575,441 621,424 516,458 586,428 528,451 540,449 552,447 565,440 538,448 586,424 513,457 556,449 610,432 548,454 595,426 634,385 599,415 579,438 570,420 532,462 531,440 631,395 573,439 528,461 508,466 581,430 580,422 504,452 587,423 514,449 528,455 514,460 565,432 651,410 528,458 606,420 627,419 532,458 578,437 559,449 556,445 554,446 504,482 588,428 528,460 583,416 565,448 593,428 561,441 584,436 609,411 603,418 589,416 559,440 598,436 547,446 491,477 588,443 541,426 529,473 505,473 594,415 624,415 556,443 571,442 541,449 534,454 529,446 552,434 556,452 573,432 577,450 591,420 511,459 574,418 506,466 577,443 587,438 601,426 621,415 548,437 587,440 610,419 622,403 489,467 545,443 503,463 504,453 558,439 638,404 542,455 640,389 598,419 604,432 613,402 502,462 545,462 547,417 575,418 569,427 552,465 565,446 574,435 512,456 536,436 500,483 567,435 583,429 567,439 571,430 577,424 518,444 590,452 636,406 590,416 580,442 586,430 521,452 525,444 556,448 545,427 518,449 577,436 510,462 514,469 569,414 599,432 630,400 588,417 566,438 514,450 544,447 535,445 553,443 497,468 573,418 556,442 596,429 537,427 536,440 520,470 610,435 640,407 561,419 496,465 674,392 505,454 604,419 570,445 531,441 588,420 562,428 642,391 529,443 533,457 556,440 615,421 580,413 623,411 549,454 545,447 549,444 597,430 557,425 506,453 539,453 559,439 505,450 625,412 613,423 589,435 582,410 515,467 595,436 599,414 540,457 547,449 558,434 592,435 532,448 537,439 558,436 598,422 577,411 509,458 597,404 619,397 600,427 578,420 633,417 609,415 596,441 530,448 501,468 608,409 632,401 544,445 541,455 541,434 529,447 562,424 501,466 573,422 542,453 575,436 534,462 632,416 552,440 586,414 566,441 580,438 584,427 527,457 605,383 590,432 529,444 609,425 516,459 556,454 564,426 626,390 514,437 611,391 515,447 518,457 521,456 539,458 592,430 564,439 557,450 531,454 622,391 527,441 557,437 681,397 555,437 618,428 580,430 555,444 531,471 593,436 544,408 573,435 636,411 561,451 595,410 488,463 554,438 551,438 557,432 560,432 587,377 523,453 550,426 548,450 661,395 540,447 633,418 603,430 523,458 522,442 546,464 494,468 549,452 562,409 586,416 581,420 619,410 585,439 522,448 545,454 575,446 569,454 602,405 558,448 545,452 568,444 627,401 621,418 594,422 586,445 534,447 550,462 541,444 582,420 547,441 558,451 518,452 541,453 535,430 594,426 563,447 560,453 555,445 564,429 613,416 514,448 547,454 591,435 601,424 552,455 560,463 496,460 513,459 553,440 584,408 490,473 575,433 569,444 628,400 572,436 548,449 560,447 643,395 580,449 576,438 564,450 579,415 528,447 579,441 510,473 582,424 602,424 553,446 576,411 491,462 569,422 567,420 524,454 607,415 568,439 531,445 509,447 578,430 528,456 597,407 597,442 545,461 575,411 591,422 528,445 517,450 488,477 582,444 552,445 564,437 622,414 600,379 497,475 643,423 489,458 604,435 567,431 626,408 549,447 530,452 539,442 590,423 568,447 646,407 560,448 623,392 593,411 562,436 597,423 539,459 624,397 578,438 585,438 638,408 547,452 620,423 564,434 539,460 535,446 599,438 501,446 561,460 632,390 596,432 626,405 543,448 561,452 610,433 556,428 571,438 497,462 531,436 602,446 571,428 583,431 605,408 517,464 493,469 534,451 536,455 621,397 510,458 602,437 546,440 617,405 618,393 585,425 507,457 625,415 526,438 511,464 624,425 584,443 524,459 544,455 519,450 555,425 513,458 571,425 591,430 556,441 557,447 617,401 626,420 578,433 584,438 525,451 589,436 576,442 612,425 544,451 536,448 553,434 524,437 614,391 571,431 599,401 562,447 622,417 533,464 580,424 543,459 621,402 499,455 577,447 539,448 569,424 577,454 603,434 500,463 525,459 627,399 515,457 554,427 594,421 571,436 504,447 562,438 612,417 590,440 507,458 583,433 497,476 647,421 579,443 545,442 607,410 492,468 522,462 603,424 572,437 624,396 610,438 598,427 571,432 583,419 557,438 612,401 503,457 583,418 550,431 576,435 616,417 619,416 546,460 670,401 528,441 536,447 518,440 520,447 536,451 612,413 490,478 555,434 519,460 612,405 648,387 574,437 613,430 555,428 551,449 590,419 549,456 617,416 591,416 579,444 625,426 531,450 523,460 521,460 537,462 561,427 582,442 507,441 593,434 569,426 538,447 555,450 568,427 526,443 552,438 534,431 573,391 592,416 567,446 536,465 551,448 499,453 501,483 517,451 553,450 561,438 612,403 597,433 540,425 592,419 576,432 595,414 544,434 543,444 535,457 629,398 553,449 572,438 545,453 562,435 533,410 574,428 604,436 601,406 576,430 522,453 614,404 570,434 548,423 528,462 592,436 542,449 510,459 504,454 525,452 578,449 510,467 546,446 517,445 614,411 504,463 572,411 524,450 550,454 540,420 543,453 554,461 582,447 588,426 658,390 645,387 575,437 581,440 612,411 537,444 538,443 524,475 559,443 571,437 553,432 491,464 558,432 611,426 501,420 568,425 572,454 526,464 596,418 503,470 608,417 557,460 562,433 599,427 595,418 583,428 564,451 523,442 517,443 541,448 569,456 617,402 634,412 528,457 625,399 623,407 545,432 585,426 646,402 544,446 524,443 541,443 541,422 523,437 520,454 631,413 582,425 544,448 587,419 582,431 578,429 564,419 599,424 516,453 519,457 545,436 503,451 582,437 547,453 561,450 502,469 562,427 573,414 537,460 616,427 497,472 638,420 554,445 571,444 524,452 578,431 589,433 622,413 510,460 616,412 596,415 506,474 622,404 627,405 548,447 590,437 562,430 526,467 488,453 577,426 555,435 574,432 636,372 503,467 513,454 496,456 588,422 541,436 624,429 540,456 561,417 646,383 563,449 655,398 517,457 581,427 566,454 530,459 568,431 574,438 660,389 561,439 591,409 549,440 609,432 509,459 505,465 551,442 522,471 601,418 510,468 608,438 616,401 558,442 569,447 576,423 632,407 541,463 583,423 546,445 560,438 505,459 555,440 598,433 569,445 587,425 540,458 562,441 532,445 580,444 530,451 566,435 586,429 647,387 609,405 517,459 541,446 527,439 551,459 542,433 611,402 516,455 534,470 488,457 547,465 601,438 579,432 564,430 671,371 613,388 621,398 581,446 524,444 551,458 572,442 566,444 631,408 591,436 501,448 582,435 518,470 514,463 540,450 532,429 531,459 515,470 581,432 647,412 557,434 545,437 532,447 506,459 567,444 515,472 562,459 561,462 578,440 609,408 555,451 499,466 559,434 578,422 553,447 535,461 620,422 488,482 530,442 631,410 599,404 577,425 588,425 537,451 594,430 533,438 602,379 537,464 586,441 598,415 539,454 571,424 613,428 553,457 612,420 577,439 550,449 526,462 556,422 519,449 538,451 525,454 619,407 586,435 586,432 549,433 559,426 536,461 598,412 514,452 608,405 513,452 502,451 649,405 534,421 524,442 597,431 559,435 546,468 508,454 546,462 616,415 538,455 528,450 521,466 549,453 545,434 628,386 505,456 662,411 565,420 554,459 508,461 549,430 548,440 558,431 502,453 492,455 536,464 534,442 543,434 535,454 588,434 555,453 588,429 575,416 535,442 529,459 604,425 557,455 568,452 639,418 574,442 565,435 592,440 631,400 571,435 625,403 580,432 591,417 529,458 572,439 579,451 605,414 604,423 579,442 511,472 564,436 533,452 650,394 581,436 521,467 524,446 597,426 587,417 552,427 522,465 616,422 552,458 547,450 598,416 533,454 552,450 491,472 644,382 513,456 590,421 599,425 577,449 522,455 606,418 548,442 574,448 593,443 490,469 502,474 587,429 663,381 533,443 601,381 519,456 569,431 560,445 568,417 564,448 536,450 577,437 635,391 558,456 579,400 512,470 532,435 525,433 586,450 568,434 558,440 607,414 602,422 578,425 560,430 615,412 517,456 623,404 630,409 523,438 586,413 573,455 580,433 532,444 511,466 526,452 597,443 578,439 571,443 551,440 623,415 623,401 585,413 603,407 632,408 650,403 544,449 495,469 547,436 602,417 551,446 601,427 492,462 624,401 488,467 500,447 506,460 524,472 630,402 569,442 505,466 588,444 537,447 556,426 521,445 554,437 517,439 576,434 499,442 556,444 586,453 583,447 512,447 538,445 518,456 588,418 545,435 519,444 570,430 505,443 631,414 604,424 556,437 576,447 552,432 612,416 609,420 605,427 611,442 583,438 602,444 577,420 534,439 550,439 551,430 599,443 599,448 600,422 500,455 544,443 625,406 624,390 526,451 563,433 595,412 624,426 531,443 581,425 550,437 531,434 582,438 503,475 536,463 583,437 590,436 537,434 541,437 537,445 568,436 573,444 540,442 497,478 644,395 591,419 606,432 630,412 535,434 564,417 506,467 624,389 564,449 540,444 509,457 518,451 589,434 563,439 601,425 608,418 554,442 604,422 575,430 589,437 598,431 582,413 607,426 623,390 606,431 543,426 551,441 550,440 562,429 572,431 589,429 600,415 540,432 529,451 547,448 551,431 599,403 577,422 523,435 551,445 534,443 619,398 620,410 542,429 596,437 602,420 521,457 526,469 578,453 534,437 508,447 509,455 606,414 592,433 582,439 646,390 567,433 544,431 594,370 554,451 647,396 599,418 627,396 553,455 506,461 588,410 527,447 562,444 597,417 503,462 543,449 542,445 593,442 496,452 549,432 514,447 611,424 530,431 613,420 518,477 498,456 595,420 551,450 533,459 527,461 561,433 561,437 650,376 588,438 562,432 562,437 584,428 634,389 576,433 548,462 571,447 517,471 540,460 563,436 511,457 598,425 556,431 488,458 572,421 566,443 517,453 572,448 572,425 623,396 635,405 621,423 567,455 511,452 543,432 516,463 558,417 533,447 542,462 548,446 530,434 587,441 589,424 654,387 523,425 603,410 617,422 590,401 574,443 601,435 533,453 559,430 580,437 575,434 533,450 628,423 577,429 496,457 553,439 501,467 546,443 576,420 584,433 587,421 579,431 587,435 489,463 600,425 518,448 576,425 579,424 575,453 631,397 562,423 623,421 610,378 522,466 602,419 596,425 547,440 570,412 643,409 514,455 515,446 615,410 593,429 646,385 544,454 570,443 560,428 520,440 538,433 525,440 622,400 506,446 547,442 566,439 519,455 619,414 589,402 538,446 566,424 544,432 574,434 624,421 635,401 532,465 620,404 557,448 616,398 548,452 553,433 516,450 542,454 617,415 532,442 634,402 607,407 549,429 545,459 576,449 561,432 561,442 513,479 518,445 497,461 543,457 605,420 582,436 568,435 592,448 596,434 580,427 683,391 568,448 550,430 556,433 562,456 521,443 576,443 505,449 625,425 539,443 516,437 537,450 572,427 664,400 523,474 528,439 563,445 540,438 502,461 564,435 579,427 625,404 525,448 530,456 676,408 570,427 531,430 572,429 581,408 578,419 550,451 608,423 544,459 497,469 584,432 572,416 583,434 566,432 613,441 542,443 548,430 537,443 577,446 541,450 599,419 565,413 518,459 549,435 529,452 510,457 575,410 593,424 622,426 611,406 513,447 581,451 540,446 489,459 557,452 533,445 598,409 527,450 630,395 543,441 534,453 574,422 585,430 550,441 508,465 543,445 607,399 581,434 504,459 552,448 557,427 570,447 536,435 620,409 561,423 591,442 570,435 558,460 541,457 493,472 506,468 618,430 599,430 577,438 492,460 563,452 531,462 521,438 618,396 576,458 640,405 657,388 619,412 565,434 556,464 583,432 549,458 553,436 630,419 566,437 502,467 603,414 550,436 632,403 590,431 574,421 653,407 522,445 494,464 642,401 554,430 494,473 579,426 582,449 571,441 589,414 513,453 509,470 547,455 512,459 564,452 596,408 539,433 540,452 550,432 498,442 608,408 614,423 572,433 621,413 568,437 617,427 573,428 501,447 567,430 536,457 529,453 524,455 637,409 535,444 590,412 515,455 519,452 519,453 496,454 503,433 491,467 525,456 522,461 634,384 593,418 617,425 626,410 586,415 609,427 574,425 501,472 564,427 616,414 577,433 537,459 531,457 566,429 549,441 563,427 551,444 565,425 524,448 635,393 588,439 539,426 543,443 623,394 578,435 532,438 656,396 580,429 554,429 646,391 593,406 568,420 605,421 562,448 533,458 515,456 506,471 573,410 568,457 521,470 557,439 524,462 639,410 585,420 506,457 624,417 639,401 585,421 518,446 620,416 514,467 540,462 601,408 567,422 618,409 593,447 630,429 610,426 533,455 541,458 571,446 553,442 584,441 543,462 573,445 588,431 614,414 541,447 538,460 503,411 657,392 548,438 587,422 608,420 562,442 599,439 575,431 624,422 506,462 587,411 565,417 612,426 560,436 608,432 526,457 516,466 625,416 588,433 635,389 599,409 548,441 546,437 591,426 595,444 504,481 526,458 564,455 619,411 495,467 570,428 625,411 634,401 591,434 602,414 622,372 560,455 560,439 559,448 547,461 545,450 496,464 562,454 511,475 558,424 580,440 590,408 544,442 549,457 584,426 563,440 570,440 567,429 528,454 532,454 574,430 581,433 600,411 602,436 558,459 537,441 632,414 542,446 510,445 508,464 514,453 540,470 519,465 565,442 520,456 560,431 639,397 522,457 632,373 527,463 560,429 591,428 544,438 609,394 577,430 580,436 519,448 592,444 511,454 606,419 645,403 513,464 607,429 556,398 583,414 618,429 570,437 495,472 589,438 537,456 569,440 551,466 528,444 567,440 626,392 592,425 552,442 541,466 565,404 618,414 554,436 565,436 578,393 527,460 558,437 522,451 546,431 521,455 628,412 598,413 571,433 554,454 549,446 575,427 555,452 587,414 567,442 508,472 536,454 524,438 533,471 638,403 604,420 549,448 617,433 610,415 576,444 621,420 523,465 600,408 623,408 570,418 547,432 642,398 624,399 561,447 624,411 565,401 586,444 608,427 525,447 610,420 492,476 517,449 544,430 526,453 514,454 574,414 623,400 560,443 501,460 531,449 660,382 540,436 563,418 577,414 578,441 592,414 570,432 513,475 645,393 584,417 548,444 622,416 581,411 497,463 539,449 559,452 609,417 565,441 633,412 619,392 612,427 509,450 562,451 512,451 579,430 491,461 525,463 578,434 569,443 537,452 523,429 595,419 541,432 529,439 495,456 626,407 524,451 576,424 594,423 528,443 523,444 615,418 605,432 507,460 533,448 598,411 560,444 515,463 524,440 587,426 565,444 617,436 664,392 547,428 559,442 631,411 603,401 594,391 621,405 515,468 532,466 670,389 555,400 490,432 545,441 613,399 684,381 533,470 503,472 489,476 621,433 506,455 594,434 544,461 557,435 515,453 525,460 531,466 607,427 586,417 547,444 581,442 576,445 535,435 548,456 534,456 626,404 517,446 543,460 634,410 532,453 630,398 591,411 522,460 552,436 506,470 615,413 496,474 563,459 561,434 582,428 546,434 532,449 522,459 496,471 522,456 539,441 566,449 557,424 543,439 528,437 593,432 511,446 568,433 605,435 566,447 561,448 596,410 559,432 584,411 532,456 514,429 534,460 518,443 565,451 605,403 562,443 539,450 572,423 525,462 570,446 561,430 588,432 510,464 603,411 564,444 620,401 587,445 490,438 560,410 528,468 616,426 585,436 582,422 531,439 660,395 593,426 535,458 578,426 606,423 651,403 567,449 628,407 634,411 553,445 577,452 592,442 535,443 585,416 647,409 619,393 516,460 602,404 505,462 497,465 520,457 595,425 612,410 514,444 546,458 547,445 563,450 502,466 499,457 505,468 577,418 599,426 536,458 632,398 531,469 617,403 637,397 608,435 570,438 520,430 529,467 584,431 513,451 500,454 505,452 551,455 592,427 574,431 539,434 492,466 614,430 546,392 569,439 590,403 571,452 531,463 601,395 637,407 565,419 522,468 499,463 560,435 615,415 544,407 534,450 546,439 620,407 582,432 561,444 563,448 633,388 600,413 580,423 559,451 515,437 598,424 520,444 555,454 553,448 574,445 642,414 508,462 595,405 534,458 525,436 523,443 538,442 578,443 581,449 553,444 533,440 617,406 565,423 608,406 534,444 602,400 569,446 513,477 621,412 559,436 643,419 495,468 573,423 561,428 606,428 559,441 597,403 559,456 616,392 592,432 628,415 604,431 653,401 506,480 573,438 617,400 572,446 591,429 598,414 586,447 533,461 611,434 568,443 558,429 659,392 603,427 500,460 633,411 560,440 502,468 567,425 564,433 532,457 488,461 539,457 524,434 522,436 601,411 603,402 554,452 546,438 499,483 560,420 607,394 600,435 508,475 528,440 604,416 558,441 526,450 626,416 537,394 502,450 537,467 602,407 528,474 568,445 578,456 519,436 613,410 552,453 624,410 663,393 583,439 568,441 519,451 586,431 543,429 620,417 554,422 503,460 558,445 590,426 487,473 552,452 528,431 527,443 512,455 605,426 609,418 488,479 636,409 535,428 549,451 547,438 650,408 591,421 596,427 508,450 570,449 540,463 569,420 551,433 624,416 532,433 573,425 530,461 630,417 504,450 528,448 579,420 564,432 564,443 578,432 641,405 574,407 656,404 654,399 567,404 559,429 554,460 488,460 554,455 528,459 636,415 589,425 656,379 510,466 604,429 489,479 560,451 618,411 555,439 533,431 505,479 540,453 663,403 567,445 589,422 593,425 517,473 626,396 493,460 556,453 596,444 572,445 488,473 578,446 587,431 530,457 624,427 503,450 514,458 605,396 608,413 525,461 595,398 644,413 564,428 585,427 579,416 579,409 558,452 516,445 562,457 520,460 520,474 516,447 519,467 615,407 505,451 508,448 526,424 511,449 556,421 546,420 534,436 531,447 603,417 511,469 552,439 565,426 585,432 527,444 595,429 567,443 565,427 621,403 597,422 535,453 586,422 594,420 549,461 583,430 512,458 550,461 544,418 582,448 629,400 506,454 576,426 580,453 574,423 537,469 562,460 559,444 627,417 662,384 529,460 561,440 658,400 523,451 547,429 578,421 575,439 490,460 580,412 541,452 538,438 513,472 621,407 533,446 505,481 641,408 593,420 521,434 606,410 501,440 560,437 627,404 518,471 619,424 544,425 636,407 570,442 520,465 648,426 525,453 531,431 551,437 611,409 529,449 636,400 545,445 512,461 605,413 552,444 523,457 616,423 532,452 629,403 531,435 536,468 637,387 611,427 635,385 544,463 600,423 565,428 528,442 574,441 571,440 612,424 535,440 584,455 530,460 511,470 609,419 507,454 563,404 514,442 656,392 496,476 509,476 572,412 640,412 649,394 657,401 527,442 594,417 503,476 575,435 514,465 498,449 520,463 527,454 613,408 520,462 588,423 631,392 547,466 618,413 629,396 522,446 627,402 585,415 525,445 590,429 562,445 597,432 501,453 545,449 596,422 589,418 559,450 591,404 519,458 626,412 517,467 551,453 668,400 611,410 593,409 504,466 589,409 601,400 602,421 575,422 574,453 606,412 591,408 652,415 532,426 633,393 513,434 569,435 546,429 590,411 564,442 644,397 515,462 600,438 562,450 515,466 534,440 516,441 623,406 613,432 584,435 524,461 579,418 645,401 536,452 591,427 557,428 627,411 577,423 567,424 566,425 574,420 535,456 573,431 585,448 538,463 595,422 629,390 497,455 597,427 631,409 563,437 523,464 662,396 553,435 566,427 539,432 605,409 633,396 516,470 599,423 591,418 603,428 509,462 555,430 513,455 589,420 617,411 656,394 542,460 629,387 540,443 517,461 611,428 560,426 577,428 494,466 521,461 600,407 566,440 629,402 557,441 528,469 630,405 544,452 518,447 521,433 514,459 504,455 504,446 506,458 536,441 572,440 499,465 491,463 500,450 500,468 512,468 518,439 513,470 487,463 489,450 504,460 495,466 498,473 488,471 566,433 506,463 487,468 490,447 493,452 487,470 516,472 487,467 490,464 500,459 531,452 571,434 507,464 550,438 503,469 517,436 497,483 506,472 522,444 488,469 494,459 560,422 487,474 491,458 591,392 562,407 575,396 616,387 591,390 657,373 626,369 675,373 631,386 636,373 657,371 581,401 575,403 609,376 593,404 630,370 663,370 647,383 571,394 607,383 650,383 562,394 606,372 620,379 564,416 629,385 595,391 606,397 606,400 567,400 566,408 672,371 577,409 565,393 660,379 596,375 654,378 563,410 609,387 580,396 635,388 673,371 582,412 575,414 662,377 582,392 613,395 605,372 582,389 674,371 627,391 655,375 677,370 586,379 589,407 620,375 627,369 576,388 618,383 613,393 573,389 617,377 637,385 579,394 617,393 589,400 658,370 589,379 672,369 681,374 684,376 669,371 675,378 661,373 678,387 683,393 655,370 665,380 722,408 705,415 683,425 677,427 646,436 681,380 486,396 572,484 599,461" fill="none" stroke="none" marker-start="url(#x)" marker-mid="url(#x)" marker-end="url(#x)"/>
<line x1="486.4" y1="464" x2="776.4" y2="338.3" stroke="#000" stroke-width="2.6"/>
<line x1="598" y1="443.3" x2="776.4" y2="393.4" stroke="#3e3e3e" stroke-width="2.6"/>
</g>
<path d="M99.5 19L99.5 239.5M99 239.5L390 239.5M99.5 165.5L103 165.5M99.5 92.5L103 92.5M99.5 19.5L103 19.5M153.5 239.5L153.5 236M212.5 239.5L212.5 236M271.5 239.5L271.5 236M330.5 239.5L330.5 236M389.5 239.5L389.5 236M486.5 19L486.5 239.5M486 239.5L778 239.5M486.5 184.5L490 184.5M486.5 129.5L490 129.5M486.5 74.5L490 74.5M486.5 19.5L490 19.5M541.5 239.5L541.5 236M600.5 239.5L600.5 236M659.5 239.5L659.5 236M718.5 239.5L718.5 236M777.5 239.5L777.5 236M99.5 329.5L99.5 553.5M99 553.5L390.5 553.5M99.5 500.5L103 500.5M99.5 398.5L103 398.5M143.5 553.5L143.5 552M168.5 553.5L168.5 552M186.5 553.5L186.5 552M200.5 553.5L200.5 552M212.5 553.5L212.5 552M222.5 553.5L222.5 552M230.5 553.5L230.5 552M238.5 553.5L238.5 552M288.5 553.5L288.5 552M313.5 553.5L313.5 552M332.5 553.5L332.5 552M346.5 553.5L346.5 552M357.5 553.5L357.5 552M367.5 553.5L367.5 552M375.5 553.5L375.5 552M383.5 553.5L383.5 552M244.5 553.5L244.5 550M389.5 553.5L389.5 550M486.5 329.5L486.5 553.5M486 553.5L777.5 553.5M486.5 500.5L490 500.5M486.5 398.5L490 398.5M530.5 553.5L530.5 552M556.5 553.5L556.5 552M574.5 553.5L574.5 552M588.5 553.5L588.5 552M599.5 553.5L599.5 552M609.5 553.5L609.5 552M618.5 553.5L618.5 552M625.5 553.5L625.5 552M675.5 553.5L675.5 552M701.5 553.5L701.5 552M719.5 553.5L719.5 552M733.5 553.5L733.5 552M745.5 553.5L745.5 552M754.5 553.5L754.5 552M763.5 553.5L763.5 552M770.5 553.5L770.5 552M632.5 553.5L632.5 550M777.5 553.5L777.5 550" stroke="#000" stroke-width="1" fill="none" shape-rendering="crispEdges"/>
<g fill="#000">
<text transform="translate(92.2 173.1) scale(0.94 1)" text-anchor="end" font-size="21.6">100</text>
<text transform="translate(92.2 99.9) scale(0.94 1)" text-anchor="end" font-size="21.6">200</text>
<text transform="translate(92.2 26.7) scale(0.94 1)" text-anchor="end" font-size="21.6">300</text>
<text transform="translate(153.6 263.5) scale(0.94 1)" text-anchor="middle" font-size="21.6">2</text>
<text transform="translate(212.5 263.5) scale(0.94 1)" text-anchor="middle" font-size="21.6">4</text>
<text transform="translate(271.3 263.5) scale(0.94 1)" text-anchor="middle" font-size="21.6">6</text>
<text transform="translate(330.2 263.5) scale(0.94 1)" text-anchor="middle" font-size="21.6">8</text>
<text transform="translate(389.0 263.5) scale(0.94 1)" text-anchor="middle" font-size="21.6">10</text>
<text transform="translate(242.0 290.0) scale(0.957 1)" text-anchor="middle" font-size="22" font-weight="bold">amplitude (deg)</text>
<text transform="translate(25.2 132.0) rotate(-90) scale(0.92 1)" text-anchor="middle" font-size="21.9" font-weight="bold">peak velocity (deg/sec)</text>
<text transform="translate(244.5 28.8) scale(1 1)" text-anchor="middle" font-size="23">A</text>
<text transform="translate(478.8 191.6) scale(0.94 1)" text-anchor="end" font-size="21.6">50</text>
<text transform="translate(478.8 136.6) scale(0.94 1)" text-anchor="end" font-size="21.6">100</text>
<text transform="translate(478.8 81.5) scale(0.94 1)" text-anchor="end" font-size="21.6">150</text>
<text transform="translate(478.8 26.5) scale(0.94 1)" text-anchor="end" font-size="21.6">200</text>
<text transform="translate(541.4 263.5) scale(0.94 1)" text-anchor="middle" font-size="21.6">2</text>
<text transform="translate(600.3 263.5) scale(0.94 1)" text-anchor="middle" font-size="21.6">4</text>
<text transform="translate(659.1 263.5) scale(0.94 1)" text-anchor="middle" font-size="21.6">6</text>
<text transform="translate(718.0 263.5) scale(0.94 1)" text-anchor="middle" font-size="21.6">8</text>
<text transform="translate(776.9 263.5) scale(0.94 1)" text-anchor="middle" font-size="21.6">10</text>
<text transform="translate(630.5 290.0) scale(0.957 1)" text-anchor="middle" font-size="22" font-weight="bold">amplitude (deg)</text>
<text transform="translate(430.5 130.6) rotate(-90) scale(0.92 1)" text-anchor="middle" font-size="21.9" font-weight="bold">duration (ms)</text>
<text transform="translate(644.5 30.6) scale(1 1)" text-anchor="middle" font-size="23">B</text>
<text transform="translate(92.2 507.6) scale(0.94 1)" text-anchor="end" font-size="21.6">10</text>
<text transform="translate(92.2 405.9) scale(0.94 1)" text-anchor="end" font-size="21.6">100</text>
<text transform="translate(96.2 577.7) scale(0.94 1)" text-anchor="middle" font-size="21.6">0.1</text>
<text transform="translate(243.7 577.7) scale(0.94 1)" text-anchor="middle" font-size="21.6">1</text>
<text transform="translate(388.9 577.7) scale(0.94 1)" text-anchor="middle" font-size="21.6">10</text>
<text transform="translate(242.0 604.0) scale(0.957 1)" text-anchor="middle" font-size="22" font-weight="bold">amplitude (deg)</text>
<text transform="translate(25.2 443.1) rotate(-90) scale(0.92 1)" text-anchor="middle" font-size="21.9" font-weight="bold">peak velocity (deg/sec)</text>
<text transform="translate(238.5 340.8) scale(1 1)" text-anchor="middle" font-size="23">C</text>
<text transform="translate(479.3 507.6) scale(0.94 1)" text-anchor="end" font-size="21.6">10</text>
<text transform="translate(479.3 405.9) scale(0.94 1)" text-anchor="end" font-size="21.6">100</text>
<text transform="translate(483.6 577.7) scale(0.94 1)" text-anchor="middle" font-size="21.6">0.1</text>
<text transform="translate(631.1 577.7) scale(0.94 1)" text-anchor="middle" font-size="21.6">1</text>
<text transform="translate(776.3 577.7) scale(0.94 1)" text-anchor="middle" font-size="21.6">10</text>
<text transform="translate(630.5 604.0) scale(0.957 1)" text-anchor="middle" font-size="22" font-weight="bold">amplitude (deg)</text>
<text transform="translate(430.5 443.0) rotate(-90) scale(0.92 1)" text-anchor="middle" font-size="21.9" font-weight="bold">duration (ms)</text>
<text transform="translate(655.2 340.5) scale(1 1)" text-anchor="middle" font-size="23">D</text>
</g>
</svg>
</body></html>
